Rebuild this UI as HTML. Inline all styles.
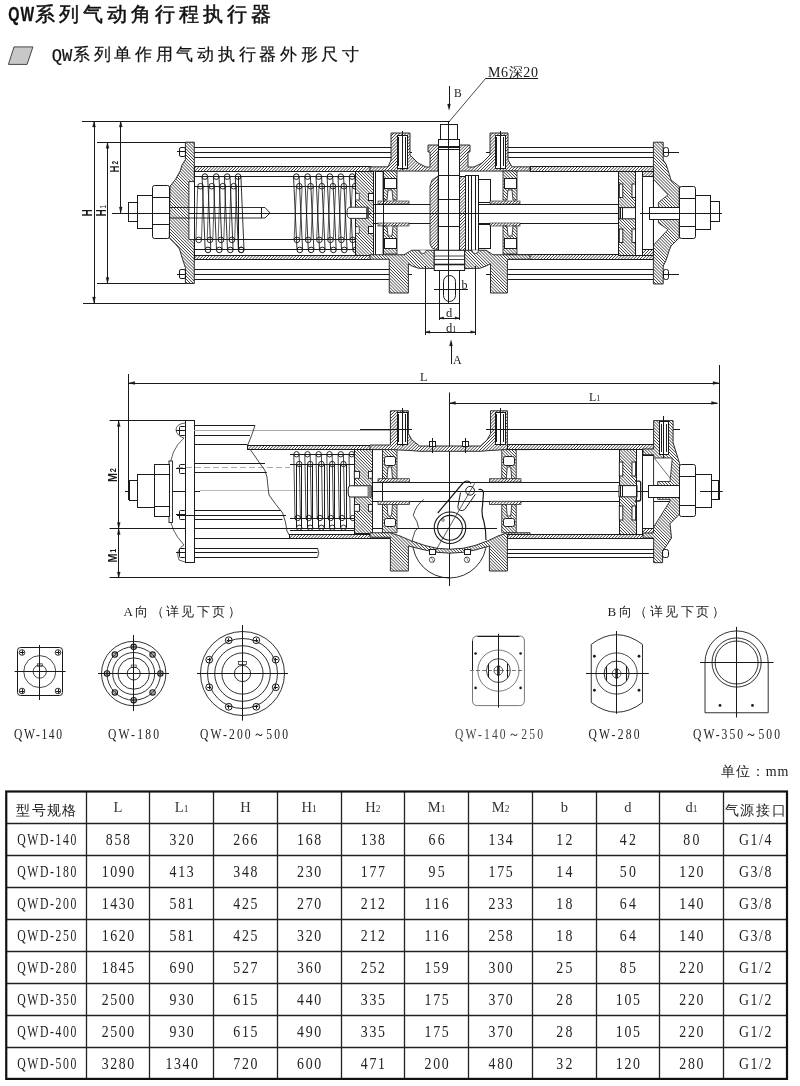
<!DOCTYPE html><html><head><meta charset="utf-8"><style>html,body{margin:0;padding:0;background:#fff;width:800px;height:1086px;overflow:hidden}svg{display:block;will-change:transform}</style></head><body>
<svg width="800" height="1086" viewBox="0 0 800 1086">
<defs>
<pattern id="h1" patternUnits="userSpaceOnUse" width="2.6" height="2.6" patternTransform="rotate(45)"><line x1="0" y1="0" x2="0" y2="2.6" stroke="#1a1a1a" stroke-width="1.0"/></pattern>
<pattern id="h2" patternUnits="userSpaceOnUse" width="2.7" height="2.7" patternTransform="rotate(-45)"><line x1="0" y1="0" x2="0" y2="2.7" stroke="#1a1a1a" stroke-width="1.0"/></pattern>
</defs>
<rect width="800" height="1086" fill="#fff"/>
<text transform="translate(8.3,21.2) scale(0.74,1)" font-family="'Liberation Sans', sans-serif" font-size="19.5" font-weight="bold" fill="#111" stroke="#111" stroke-width="0.3" letter-spacing="1.2">QW</text>
<text x="34.5" y="20.5" font-family="'Liberation Sans', sans-serif" font-size="20" fill="#111" stroke="#111" stroke-width="0.5" textLength="236" lengthAdjust="spacing">系列气动角行程执行器</text>
<polygon points="8.4,64.4 14,46.9 32.9,46.9 27.1,64.4" fill="#c8c8c8" stroke="#333" stroke-width="0.9"/>
<text x="51.8" y="60.6" font-family="'Liberation Mono', monospace" font-size="17.5" fill="#111" stroke="#111" stroke-width="0.2" textLength="20.5" lengthAdjust="spacingAndGlyphs">QW</text>
<text x="73" y="60.3" font-family="'Liberation Sans', sans-serif" font-size="17" fill="#111" stroke="#111" stroke-width="0.2" textLength="286" lengthAdjust="spacing">系列单作用气动执行器外形尺寸</text>
<line x1="6.25" y1="823.5" x2="787" y2="823.5" stroke="#222" stroke-width="1.3" />
<line x1="6.25" y1="855.5" x2="787" y2="855.5" stroke="#222" stroke-width="1.3" />
<line x1="6.25" y1="887.5" x2="787" y2="887.5" stroke="#222" stroke-width="1.3" />
<line x1="6.25" y1="919.5" x2="787" y2="919.5" stroke="#222" stroke-width="1.3" />
<line x1="6.25" y1="951.5" x2="787" y2="951.5" stroke="#222" stroke-width="1.3" />
<line x1="6.25" y1="983.5" x2="787" y2="983.5" stroke="#222" stroke-width="1.3" />
<line x1="6.25" y1="1015.5" x2="787" y2="1015.5" stroke="#222" stroke-width="1.3" />
<line x1="6.25" y1="1047.5" x2="787" y2="1047.5" stroke="#222" stroke-width="1.3" />
<line x1="86.5" y1="791.5" x2="86.5" y2="1078.9" stroke="#222" stroke-width="1.3" />
<line x1="149.5" y1="791.5" x2="149.5" y2="1078.9" stroke="#222" stroke-width="1.3" />
<line x1="213.5" y1="791.5" x2="213.5" y2="1078.9" stroke="#222" stroke-width="1.3" />
<line x1="277.5" y1="791.5" x2="277.5" y2="1078.9" stroke="#222" stroke-width="1.3" />
<line x1="341.5" y1="791.5" x2="341.5" y2="1078.9" stroke="#222" stroke-width="1.3" />
<line x1="404.5" y1="791.5" x2="404.5" y2="1078.9" stroke="#222" stroke-width="1.3" />
<line x1="468.5" y1="791.5" x2="468.5" y2="1078.9" stroke="#222" stroke-width="1.3" />
<line x1="532.5" y1="791.5" x2="532.5" y2="1078.9" stroke="#222" stroke-width="1.3" />
<line x1="596.5" y1="791.5" x2="596.5" y2="1078.9" stroke="#222" stroke-width="1.3" />
<line x1="659.5" y1="791.5" x2="659.5" y2="1078.9" stroke="#222" stroke-width="1.3" />
<line x1="723.5" y1="791.5" x2="723.5" y2="1078.9" stroke="#222" stroke-width="1.3" />
<rect x="6.25" y="791.5" width="780.75" height="287.4000000000001" fill="none" stroke="#111" stroke-width="2.2" rx="0" />
<text x="46.25" y="814.5" font-family="'Liberation Serif', serif" font-size="13.5" fill="#222" text-anchor="middle" textLength="60" lengthAdjust="spacing" >型号规格</text>
<text x="117.875" y="812" font-family="'Liberation Serif', serif" font-size="14.5" fill="#333" text-anchor="middle" >L</text>
<text x="181.625" y="812" font-family="'Liberation Serif', serif" font-size="14.5" fill="#333" text-anchor="middle" >L<tspan font-size='9.5'>1</tspan></text>
<text x="245.375" y="812" font-family="'Liberation Serif', serif" font-size="14.5" fill="#333" text-anchor="middle" >H</text>
<text x="309.125" y="812" font-family="'Liberation Serif', serif" font-size="14.5" fill="#333" text-anchor="middle" >H<tspan font-size='9.5'>1</tspan></text>
<text x="372.875" y="812" font-family="'Liberation Serif', serif" font-size="14.5" fill="#333" text-anchor="middle" >H<tspan font-size='9.5'>2</tspan></text>
<text x="436.625" y="812" font-family="'Liberation Serif', serif" font-size="14.5" fill="#333" text-anchor="middle" >M<tspan font-size='9.5'>1</tspan></text>
<text x="500.625" y="812" font-family="'Liberation Serif', serif" font-size="14.5" fill="#333" text-anchor="middle" >M<tspan font-size='9.5'>2</tspan></text>
<text x="564.375" y="812" font-family="'Liberation Serif', serif" font-size="14.5" fill="#333" text-anchor="middle" >b</text>
<text x="627.875" y="812" font-family="'Liberation Serif', serif" font-size="14.5" fill="#333" text-anchor="middle" >d</text>
<text x="691.375" y="812" font-family="'Liberation Serif', serif" font-size="14.5" fill="#333" text-anchor="middle" >d<tspan font-size='9.5'>1</tspan></text>
<text x="755.125" y="814.5" font-family="'Liberation Serif', serif" font-size="13.5" fill="#222" text-anchor="middle" textLength="61" lengthAdjust="spacing" >气源接口</text>
<text transform="translate(46.75,845.3) scale(0.72,1)" x="0" y="0" font-family="'Liberation Serif', serif" font-size="16.3" font-weight="normal" fill="#222" text-anchor="middle" textLength="81.94" lengthAdjust="spacing">QWD-140</text>
<text transform="translate(117.875,845.3) scale(0.85,1)" x="0" y="0" font-family="'Liberation Serif', serif" font-size="16.3" font-weight="normal" fill="#222" text-anchor="middle" textLength="28.59" lengthAdjust="spacing">858</text>
<text transform="translate(181.625,845.3) scale(0.85,1)" x="0" y="0" font-family="'Liberation Serif', serif" font-size="16.3" font-weight="normal" fill="#222" text-anchor="middle" textLength="28.59" lengthAdjust="spacing">320</text>
<text transform="translate(245.375,845.3) scale(0.85,1)" x="0" y="0" font-family="'Liberation Serif', serif" font-size="16.3" font-weight="normal" fill="#222" text-anchor="middle" textLength="28.59" lengthAdjust="spacing">266</text>
<text transform="translate(309.125,845.3) scale(0.85,1)" x="0" y="0" font-family="'Liberation Serif', serif" font-size="16.3" font-weight="normal" fill="#222" text-anchor="middle" textLength="28.59" lengthAdjust="spacing">168</text>
<text transform="translate(372.875,845.3) scale(0.85,1)" x="0" y="0" font-family="'Liberation Serif', serif" font-size="16.3" font-weight="normal" fill="#222" text-anchor="middle" textLength="28.59" lengthAdjust="spacing">138</text>
<text transform="translate(436.625,845.3) scale(0.85,1)" x="0" y="0" font-family="'Liberation Serif', serif" font-size="16.3" font-weight="normal" fill="#222" text-anchor="middle" textLength="19.06" lengthAdjust="spacing">66</text>
<text transform="translate(500.625,845.3) scale(0.85,1)" x="0" y="0" font-family="'Liberation Serif', serif" font-size="16.3" font-weight="normal" fill="#222" text-anchor="middle" textLength="28.59" lengthAdjust="spacing">134</text>
<text transform="translate(564.375,845.3) scale(0.85,1)" x="0" y="0" font-family="'Liberation Serif', serif" font-size="16.3" font-weight="normal" fill="#222" text-anchor="middle" textLength="19.06" lengthAdjust="spacing">12</text>
<text transform="translate(627.875,845.3) scale(0.85,1)" x="0" y="0" font-family="'Liberation Serif', serif" font-size="16.3" font-weight="normal" fill="#222" text-anchor="middle" textLength="19.06" lengthAdjust="spacing">42</text>
<text transform="translate(691.375,845.3) scale(0.85,1)" x="0" y="0" font-family="'Liberation Serif', serif" font-size="16.3" font-weight="normal" fill="#222" text-anchor="middle" textLength="19.06" lengthAdjust="spacing">80</text>
<text transform="translate(755.125,845.3) scale(0.85,1)" x="0" y="0" font-family="'Liberation Serif', serif" font-size="16.3" font-weight="normal" fill="#222" text-anchor="middle" textLength="38.12" lengthAdjust="spacing">G1/4</text>
<text transform="translate(46.75,877.3) scale(0.72,1)" x="0" y="0" font-family="'Liberation Serif', serif" font-size="16.3" font-weight="normal" fill="#222" text-anchor="middle" textLength="81.94" lengthAdjust="spacing">QWD-180</text>
<text transform="translate(117.875,877.3) scale(0.85,1)" x="0" y="0" font-family="'Liberation Serif', serif" font-size="16.3" font-weight="normal" fill="#222" text-anchor="middle" textLength="38.12" lengthAdjust="spacing">1090</text>
<text transform="translate(181.625,877.3) scale(0.85,1)" x="0" y="0" font-family="'Liberation Serif', serif" font-size="16.3" font-weight="normal" fill="#222" text-anchor="middle" textLength="28.59" lengthAdjust="spacing">413</text>
<text transform="translate(245.375,877.3) scale(0.85,1)" x="0" y="0" font-family="'Liberation Serif', serif" font-size="16.3" font-weight="normal" fill="#222" text-anchor="middle" textLength="28.59" lengthAdjust="spacing">348</text>
<text transform="translate(309.125,877.3) scale(0.85,1)" x="0" y="0" font-family="'Liberation Serif', serif" font-size="16.3" font-weight="normal" fill="#222" text-anchor="middle" textLength="28.59" lengthAdjust="spacing">230</text>
<text transform="translate(372.875,877.3) scale(0.85,1)" x="0" y="0" font-family="'Liberation Serif', serif" font-size="16.3" font-weight="normal" fill="#222" text-anchor="middle" textLength="28.59" lengthAdjust="spacing">177</text>
<text transform="translate(436.625,877.3) scale(0.85,1)" x="0" y="0" font-family="'Liberation Serif', serif" font-size="16.3" font-weight="normal" fill="#222" text-anchor="middle" textLength="19.06" lengthAdjust="spacing">95</text>
<text transform="translate(500.625,877.3) scale(0.85,1)" x="0" y="0" font-family="'Liberation Serif', serif" font-size="16.3" font-weight="normal" fill="#222" text-anchor="middle" textLength="28.59" lengthAdjust="spacing">175</text>
<text transform="translate(564.375,877.3) scale(0.85,1)" x="0" y="0" font-family="'Liberation Serif', serif" font-size="16.3" font-weight="normal" fill="#222" text-anchor="middle" textLength="19.06" lengthAdjust="spacing">14</text>
<text transform="translate(627.875,877.3) scale(0.85,1)" x="0" y="0" font-family="'Liberation Serif', serif" font-size="16.3" font-weight="normal" fill="#222" text-anchor="middle" textLength="19.06" lengthAdjust="spacing">50</text>
<text transform="translate(691.375,877.3) scale(0.85,1)" x="0" y="0" font-family="'Liberation Serif', serif" font-size="16.3" font-weight="normal" fill="#222" text-anchor="middle" textLength="28.59" lengthAdjust="spacing">120</text>
<text transform="translate(755.125,877.3) scale(0.85,1)" x="0" y="0" font-family="'Liberation Serif', serif" font-size="16.3" font-weight="normal" fill="#222" text-anchor="middle" textLength="38.12" lengthAdjust="spacing">G3/8</text>
<text transform="translate(46.75,909.3) scale(0.72,1)" x="0" y="0" font-family="'Liberation Serif', serif" font-size="16.3" font-weight="normal" fill="#222" text-anchor="middle" textLength="81.94" lengthAdjust="spacing">QWD-200</text>
<text transform="translate(117.875,909.3) scale(0.85,1)" x="0" y="0" font-family="'Liberation Serif', serif" font-size="16.3" font-weight="normal" fill="#222" text-anchor="middle" textLength="38.12" lengthAdjust="spacing">1430</text>
<text transform="translate(181.625,909.3) scale(0.85,1)" x="0" y="0" font-family="'Liberation Serif', serif" font-size="16.3" font-weight="normal" fill="#222" text-anchor="middle" textLength="28.59" lengthAdjust="spacing">581</text>
<text transform="translate(245.375,909.3) scale(0.85,1)" x="0" y="0" font-family="'Liberation Serif', serif" font-size="16.3" font-weight="normal" fill="#222" text-anchor="middle" textLength="28.59" lengthAdjust="spacing">425</text>
<text transform="translate(309.125,909.3) scale(0.85,1)" x="0" y="0" font-family="'Liberation Serif', serif" font-size="16.3" font-weight="normal" fill="#222" text-anchor="middle" textLength="28.59" lengthAdjust="spacing">270</text>
<text transform="translate(372.875,909.3) scale(0.85,1)" x="0" y="0" font-family="'Liberation Serif', serif" font-size="16.3" font-weight="normal" fill="#222" text-anchor="middle" textLength="28.59" lengthAdjust="spacing">212</text>
<text transform="translate(436.625,909.3) scale(0.85,1)" x="0" y="0" font-family="'Liberation Serif', serif" font-size="16.3" font-weight="normal" fill="#222" text-anchor="middle" textLength="28.59" lengthAdjust="spacing">116</text>
<text transform="translate(500.625,909.3) scale(0.85,1)" x="0" y="0" font-family="'Liberation Serif', serif" font-size="16.3" font-weight="normal" fill="#222" text-anchor="middle" textLength="28.59" lengthAdjust="spacing">233</text>
<text transform="translate(564.375,909.3) scale(0.85,1)" x="0" y="0" font-family="'Liberation Serif', serif" font-size="16.3" font-weight="normal" fill="#222" text-anchor="middle" textLength="19.06" lengthAdjust="spacing">18</text>
<text transform="translate(627.875,909.3) scale(0.85,1)" x="0" y="0" font-family="'Liberation Serif', serif" font-size="16.3" font-weight="normal" fill="#222" text-anchor="middle" textLength="19.06" lengthAdjust="spacing">64</text>
<text transform="translate(691.375,909.3) scale(0.85,1)" x="0" y="0" font-family="'Liberation Serif', serif" font-size="16.3" font-weight="normal" fill="#222" text-anchor="middle" textLength="28.59" lengthAdjust="spacing">140</text>
<text transform="translate(755.125,909.3) scale(0.85,1)" x="0" y="0" font-family="'Liberation Serif', serif" font-size="16.3" font-weight="normal" fill="#222" text-anchor="middle" textLength="38.12" lengthAdjust="spacing">G3/8</text>
<text transform="translate(46.75,941.3) scale(0.72,1)" x="0" y="0" font-family="'Liberation Serif', serif" font-size="16.3" font-weight="normal" fill="#222" text-anchor="middle" textLength="81.94" lengthAdjust="spacing">QWD-250</text>
<text transform="translate(117.875,941.3) scale(0.85,1)" x="0" y="0" font-family="'Liberation Serif', serif" font-size="16.3" font-weight="normal" fill="#222" text-anchor="middle" textLength="38.12" lengthAdjust="spacing">1620</text>
<text transform="translate(181.625,941.3) scale(0.85,1)" x="0" y="0" font-family="'Liberation Serif', serif" font-size="16.3" font-weight="normal" fill="#222" text-anchor="middle" textLength="28.59" lengthAdjust="spacing">581</text>
<text transform="translate(245.375,941.3) scale(0.85,1)" x="0" y="0" font-family="'Liberation Serif', serif" font-size="16.3" font-weight="normal" fill="#222" text-anchor="middle" textLength="28.59" lengthAdjust="spacing">425</text>
<text transform="translate(309.125,941.3) scale(0.85,1)" x="0" y="0" font-family="'Liberation Serif', serif" font-size="16.3" font-weight="normal" fill="#222" text-anchor="middle" textLength="28.59" lengthAdjust="spacing">320</text>
<text transform="translate(372.875,941.3) scale(0.85,1)" x="0" y="0" font-family="'Liberation Serif', serif" font-size="16.3" font-weight="normal" fill="#222" text-anchor="middle" textLength="28.59" lengthAdjust="spacing">212</text>
<text transform="translate(436.625,941.3) scale(0.85,1)" x="0" y="0" font-family="'Liberation Serif', serif" font-size="16.3" font-weight="normal" fill="#222" text-anchor="middle" textLength="28.59" lengthAdjust="spacing">116</text>
<text transform="translate(500.625,941.3) scale(0.85,1)" x="0" y="0" font-family="'Liberation Serif', serif" font-size="16.3" font-weight="normal" fill="#222" text-anchor="middle" textLength="28.59" lengthAdjust="spacing">258</text>
<text transform="translate(564.375,941.3) scale(0.85,1)" x="0" y="0" font-family="'Liberation Serif', serif" font-size="16.3" font-weight="normal" fill="#222" text-anchor="middle" textLength="19.06" lengthAdjust="spacing">18</text>
<text transform="translate(627.875,941.3) scale(0.85,1)" x="0" y="0" font-family="'Liberation Serif', serif" font-size="16.3" font-weight="normal" fill="#222" text-anchor="middle" textLength="19.06" lengthAdjust="spacing">64</text>
<text transform="translate(691.375,941.3) scale(0.85,1)" x="0" y="0" font-family="'Liberation Serif', serif" font-size="16.3" font-weight="normal" fill="#222" text-anchor="middle" textLength="28.59" lengthAdjust="spacing">140</text>
<text transform="translate(755.125,941.3) scale(0.85,1)" x="0" y="0" font-family="'Liberation Serif', serif" font-size="16.3" font-weight="normal" fill="#222" text-anchor="middle" textLength="38.12" lengthAdjust="spacing">G3/8</text>
<text transform="translate(46.75,973.3) scale(0.72,1)" x="0" y="0" font-family="'Liberation Serif', serif" font-size="16.3" font-weight="normal" fill="#222" text-anchor="middle" textLength="81.94" lengthAdjust="spacing">QWD-280</text>
<text transform="translate(117.875,973.3) scale(0.85,1)" x="0" y="0" font-family="'Liberation Serif', serif" font-size="16.3" font-weight="normal" fill="#222" text-anchor="middle" textLength="38.12" lengthAdjust="spacing">1845</text>
<text transform="translate(181.625,973.3) scale(0.85,1)" x="0" y="0" font-family="'Liberation Serif', serif" font-size="16.3" font-weight="normal" fill="#222" text-anchor="middle" textLength="28.59" lengthAdjust="spacing">690</text>
<text transform="translate(245.375,973.3) scale(0.85,1)" x="0" y="0" font-family="'Liberation Serif', serif" font-size="16.3" font-weight="normal" fill="#222" text-anchor="middle" textLength="28.59" lengthAdjust="spacing">527</text>
<text transform="translate(309.125,973.3) scale(0.85,1)" x="0" y="0" font-family="'Liberation Serif', serif" font-size="16.3" font-weight="normal" fill="#222" text-anchor="middle" textLength="28.59" lengthAdjust="spacing">360</text>
<text transform="translate(372.875,973.3) scale(0.85,1)" x="0" y="0" font-family="'Liberation Serif', serif" font-size="16.3" font-weight="normal" fill="#222" text-anchor="middle" textLength="28.59" lengthAdjust="spacing">252</text>
<text transform="translate(436.625,973.3) scale(0.85,1)" x="0" y="0" font-family="'Liberation Serif', serif" font-size="16.3" font-weight="normal" fill="#222" text-anchor="middle" textLength="28.59" lengthAdjust="spacing">159</text>
<text transform="translate(500.625,973.3) scale(0.85,1)" x="0" y="0" font-family="'Liberation Serif', serif" font-size="16.3" font-weight="normal" fill="#222" text-anchor="middle" textLength="28.59" lengthAdjust="spacing">300</text>
<text transform="translate(564.375,973.3) scale(0.85,1)" x="0" y="0" font-family="'Liberation Serif', serif" font-size="16.3" font-weight="normal" fill="#222" text-anchor="middle" textLength="19.06" lengthAdjust="spacing">25</text>
<text transform="translate(627.875,973.3) scale(0.85,1)" x="0" y="0" font-family="'Liberation Serif', serif" font-size="16.3" font-weight="normal" fill="#222" text-anchor="middle" textLength="19.06" lengthAdjust="spacing">85</text>
<text transform="translate(691.375,973.3) scale(0.85,1)" x="0" y="0" font-family="'Liberation Serif', serif" font-size="16.3" font-weight="normal" fill="#222" text-anchor="middle" textLength="28.59" lengthAdjust="spacing">220</text>
<text transform="translate(755.125,973.3) scale(0.85,1)" x="0" y="0" font-family="'Liberation Serif', serif" font-size="16.3" font-weight="normal" fill="#222" text-anchor="middle" textLength="38.12" lengthAdjust="spacing">G1/2</text>
<text transform="translate(46.75,1005.3) scale(0.72,1)" x="0" y="0" font-family="'Liberation Serif', serif" font-size="16.3" font-weight="normal" fill="#222" text-anchor="middle" textLength="81.94" lengthAdjust="spacing">QWD-350</text>
<text transform="translate(117.875,1005.3) scale(0.85,1)" x="0" y="0" font-family="'Liberation Serif', serif" font-size="16.3" font-weight="normal" fill="#222" text-anchor="middle" textLength="38.12" lengthAdjust="spacing">2500</text>
<text transform="translate(181.625,1005.3) scale(0.85,1)" x="0" y="0" font-family="'Liberation Serif', serif" font-size="16.3" font-weight="normal" fill="#222" text-anchor="middle" textLength="28.59" lengthAdjust="spacing">930</text>
<text transform="translate(245.375,1005.3) scale(0.85,1)" x="0" y="0" font-family="'Liberation Serif', serif" font-size="16.3" font-weight="normal" fill="#222" text-anchor="middle" textLength="28.59" lengthAdjust="spacing">615</text>
<text transform="translate(309.125,1005.3) scale(0.85,1)" x="0" y="0" font-family="'Liberation Serif', serif" font-size="16.3" font-weight="normal" fill="#222" text-anchor="middle" textLength="28.59" lengthAdjust="spacing">440</text>
<text transform="translate(372.875,1005.3) scale(0.85,1)" x="0" y="0" font-family="'Liberation Serif', serif" font-size="16.3" font-weight="normal" fill="#222" text-anchor="middle" textLength="28.59" lengthAdjust="spacing">335</text>
<text transform="translate(436.625,1005.3) scale(0.85,1)" x="0" y="0" font-family="'Liberation Serif', serif" font-size="16.3" font-weight="normal" fill="#222" text-anchor="middle" textLength="28.59" lengthAdjust="spacing">175</text>
<text transform="translate(500.625,1005.3) scale(0.85,1)" x="0" y="0" font-family="'Liberation Serif', serif" font-size="16.3" font-weight="normal" fill="#222" text-anchor="middle" textLength="28.59" lengthAdjust="spacing">370</text>
<text transform="translate(564.375,1005.3) scale(0.85,1)" x="0" y="0" font-family="'Liberation Serif', serif" font-size="16.3" font-weight="normal" fill="#222" text-anchor="middle" textLength="19.06" lengthAdjust="spacing">28</text>
<text transform="translate(627.875,1005.3) scale(0.85,1)" x="0" y="0" font-family="'Liberation Serif', serif" font-size="16.3" font-weight="normal" fill="#222" text-anchor="middle" textLength="28.59" lengthAdjust="spacing">105</text>
<text transform="translate(691.375,1005.3) scale(0.85,1)" x="0" y="0" font-family="'Liberation Serif', serif" font-size="16.3" font-weight="normal" fill="#222" text-anchor="middle" textLength="28.59" lengthAdjust="spacing">220</text>
<text transform="translate(755.125,1005.3) scale(0.85,1)" x="0" y="0" font-family="'Liberation Serif', serif" font-size="16.3" font-weight="normal" fill="#222" text-anchor="middle" textLength="38.12" lengthAdjust="spacing">G1/2</text>
<text transform="translate(46.75,1037.3) scale(0.72,1)" x="0" y="0" font-family="'Liberation Serif', serif" font-size="16.3" font-weight="normal" fill="#222" text-anchor="middle" textLength="81.94" lengthAdjust="spacing">QWD-400</text>
<text transform="translate(117.875,1037.3) scale(0.85,1)" x="0" y="0" font-family="'Liberation Serif', serif" font-size="16.3" font-weight="normal" fill="#222" text-anchor="middle" textLength="38.12" lengthAdjust="spacing">2500</text>
<text transform="translate(181.625,1037.3) scale(0.85,1)" x="0" y="0" font-family="'Liberation Serif', serif" font-size="16.3" font-weight="normal" fill="#222" text-anchor="middle" textLength="28.59" lengthAdjust="spacing">930</text>
<text transform="translate(245.375,1037.3) scale(0.85,1)" x="0" y="0" font-family="'Liberation Serif', serif" font-size="16.3" font-weight="normal" fill="#222" text-anchor="middle" textLength="28.59" lengthAdjust="spacing">615</text>
<text transform="translate(309.125,1037.3) scale(0.85,1)" x="0" y="0" font-family="'Liberation Serif', serif" font-size="16.3" font-weight="normal" fill="#222" text-anchor="middle" textLength="28.59" lengthAdjust="spacing">490</text>
<text transform="translate(372.875,1037.3) scale(0.85,1)" x="0" y="0" font-family="'Liberation Serif', serif" font-size="16.3" font-weight="normal" fill="#222" text-anchor="middle" textLength="28.59" lengthAdjust="spacing">335</text>
<text transform="translate(436.625,1037.3) scale(0.85,1)" x="0" y="0" font-family="'Liberation Serif', serif" font-size="16.3" font-weight="normal" fill="#222" text-anchor="middle" textLength="28.59" lengthAdjust="spacing">175</text>
<text transform="translate(500.625,1037.3) scale(0.85,1)" x="0" y="0" font-family="'Liberation Serif', serif" font-size="16.3" font-weight="normal" fill="#222" text-anchor="middle" textLength="28.59" lengthAdjust="spacing">370</text>
<text transform="translate(564.375,1037.3) scale(0.85,1)" x="0" y="0" font-family="'Liberation Serif', serif" font-size="16.3" font-weight="normal" fill="#222" text-anchor="middle" textLength="19.06" lengthAdjust="spacing">28</text>
<text transform="translate(627.875,1037.3) scale(0.85,1)" x="0" y="0" font-family="'Liberation Serif', serif" font-size="16.3" font-weight="normal" fill="#222" text-anchor="middle" textLength="28.59" lengthAdjust="spacing">105</text>
<text transform="translate(691.375,1037.3) scale(0.85,1)" x="0" y="0" font-family="'Liberation Serif', serif" font-size="16.3" font-weight="normal" fill="#222" text-anchor="middle" textLength="28.59" lengthAdjust="spacing">220</text>
<text transform="translate(755.125,1037.3) scale(0.85,1)" x="0" y="0" font-family="'Liberation Serif', serif" font-size="16.3" font-weight="normal" fill="#222" text-anchor="middle" textLength="38.12" lengthAdjust="spacing">G1/2</text>
<text transform="translate(46.75,1069.3) scale(0.72,1)" x="0" y="0" font-family="'Liberation Serif', serif" font-size="16.3" font-weight="normal" fill="#222" text-anchor="middle" textLength="81.94" lengthAdjust="spacing">QWD-500</text>
<text transform="translate(117.875,1069.3) scale(0.85,1)" x="0" y="0" font-family="'Liberation Serif', serif" font-size="16.3" font-weight="normal" fill="#222" text-anchor="middle" textLength="38.12" lengthAdjust="spacing">3280</text>
<text transform="translate(181.625,1069.3) scale(0.85,1)" x="0" y="0" font-family="'Liberation Serif', serif" font-size="16.3" font-weight="normal" fill="#222" text-anchor="middle" textLength="38.12" lengthAdjust="spacing">1340</text>
<text transform="translate(245.375,1069.3) scale(0.85,1)" x="0" y="0" font-family="'Liberation Serif', serif" font-size="16.3" font-weight="normal" fill="#222" text-anchor="middle" textLength="28.59" lengthAdjust="spacing">720</text>
<text transform="translate(309.125,1069.3) scale(0.85,1)" x="0" y="0" font-family="'Liberation Serif', serif" font-size="16.3" font-weight="normal" fill="#222" text-anchor="middle" textLength="28.59" lengthAdjust="spacing">600</text>
<text transform="translate(372.875,1069.3) scale(0.85,1)" x="0" y="0" font-family="'Liberation Serif', serif" font-size="16.3" font-weight="normal" fill="#222" text-anchor="middle" textLength="28.59" lengthAdjust="spacing">471</text>
<text transform="translate(436.625,1069.3) scale(0.85,1)" x="0" y="0" font-family="'Liberation Serif', serif" font-size="16.3" font-weight="normal" fill="#222" text-anchor="middle" textLength="28.59" lengthAdjust="spacing">200</text>
<text transform="translate(500.625,1069.3) scale(0.85,1)" x="0" y="0" font-family="'Liberation Serif', serif" font-size="16.3" font-weight="normal" fill="#222" text-anchor="middle" textLength="28.59" lengthAdjust="spacing">480</text>
<text transform="translate(564.375,1069.3) scale(0.85,1)" x="0" y="0" font-family="'Liberation Serif', serif" font-size="16.3" font-weight="normal" fill="#222" text-anchor="middle" textLength="19.06" lengthAdjust="spacing">32</text>
<text transform="translate(627.875,1069.3) scale(0.85,1)" x="0" y="0" font-family="'Liberation Serif', serif" font-size="16.3" font-weight="normal" fill="#222" text-anchor="middle" textLength="28.59" lengthAdjust="spacing">120</text>
<text transform="translate(691.375,1069.3) scale(0.85,1)" x="0" y="0" font-family="'Liberation Serif', serif" font-size="16.3" font-weight="normal" fill="#222" text-anchor="middle" textLength="28.59" lengthAdjust="spacing">280</text>
<text transform="translate(755.125,1069.3) scale(0.85,1)" x="0" y="0" font-family="'Liberation Serif', serif" font-size="16.3" font-weight="normal" fill="#222" text-anchor="middle" textLength="38.12" lengthAdjust="spacing">G1/2</text>
<text x="789.5" y="776" font-family="'Liberation Serif', serif" font-size="14" fill="#222" text-anchor="end" letter-spacing="1">单位：mm</text>
<line x1="82" y1="121.5" x2="450" y2="121.5" stroke="#1a1a1a" stroke-width="1" />
<line x1="83" y1="303.5" x2="459" y2="303.5" stroke="#1a1a1a" stroke-width="1" />
<line x1="97" y1="142.5" x2="194.3" y2="142.5" stroke="#1a1a1a" stroke-width="1" />
<line x1="97" y1="283.5" x2="194.3" y2="283.5" stroke="#1a1a1a" stroke-width="1" />
<line x1="94.5" y1="121" x2="94.5" y2="303" stroke="#1a1a1a" stroke-width="1.0" />
<polygon points="94,121 92.5,127 95.5,127" fill="#1a1a1a" stroke="#1a1a1a" stroke-width="0.3"/>
<polygon points="94,303 92.5,297 95.5,297" fill="#1a1a1a" stroke="#1a1a1a" stroke-width="0.3"/>
<line x1="107.5" y1="142.3" x2="107.5" y2="283.5" stroke="#1a1a1a" stroke-width="1.0" />
<polygon points="107.5,142.3 106.0,148.3 109.0,148.3" fill="#1a1a1a" stroke="#1a1a1a" stroke-width="0.3"/>
<polygon points="107.5,283.5 106.0,277.5 109.0,277.5" fill="#1a1a1a" stroke="#1a1a1a" stroke-width="0.3"/>
<line x1="120.5" y1="121" x2="120.5" y2="213" stroke="#1a1a1a" stroke-width="1.0" />
<polygon points="120.75,121 119.25,127 122.25,127" fill="#1a1a1a" stroke="#1a1a1a" stroke-width="0.3"/>
<polygon points="120.75,213 119.25,207 122.25,207" fill="#1a1a1a" stroke="#1a1a1a" stroke-width="0.3"/>
<text transform="translate(91.6,216.5) rotate(-90) scale(0.72,1)" font-family="'Liberation Sans', sans-serif" font-size="14" font-weight="bold" fill="#1a1a1a">H</text>
<text transform="translate(106.2,216.5) rotate(-90) scale(0.72,1)" font-family="'Liberation Sans', sans-serif" font-size="14" font-weight="bold" fill="#1a1a1a">H<tspan font-size="9" font-weight="normal" dx="1">1</tspan></text>
<text transform="translate(118.8,172.5) rotate(-90) scale(0.72,1)" font-family="'Liberation Sans', sans-serif" font-size="13.5" font-weight="bold" fill="#1a1a1a">H<tspan font-size="9" dx="1.5" dy="-1">2</tspan></text>
<line x1="112" y1="213.5" x2="270" y2="213.5" stroke="#1a1a1a" stroke-width="1.0" />
<clipPath id="c1"><path d="M194.3,142.2 L185.4,142.2 L185.4,159.7 Q181,165 180.3,170.7 Q176,180 170,186.3 L169.3,238 Q176,244 179.5,249 Q182,258 185.4,267.7 L185.4,283.4 L194.3,283.4 L194.3,239.5 L188.9,239.5 L188.9,181.6 L194.3,181.6 Z"/></clipPath>
<path d="M194.3,142.2 L185.4,142.2 L185.4,159.7 Q181,165 180.3,170.7 Q176,180 170,186.3 L169.3,238 Q176,244 179.5,249 Q182,258 185.4,267.7 L185.4,283.4 L194.3,283.4 L194.3,239.5 L188.9,239.5 L188.9,181.6 L194.3,181.6 Z" fill="#fff" stroke="none"/>
<path d="M23.4,141.2L166.6,284.4M26.5,141.2L169.7,284.4M29.6,141.2L172.8,284.4M32.7,141.2L175.9,284.4M35.8,141.2L179.0,284.4M38.9,141.2L182.1,284.4M42.0,141.2L185.2,284.4M45.1,141.2L188.3,284.4M48.2,141.2L191.4,284.4M51.3,141.2L194.5,284.4M54.4,141.2L197.6,284.4M57.5,141.2L200.7,284.4M60.6,141.2L203.8,284.4M63.7,141.2L206.9,284.4M66.8,141.2L210.0,284.4M69.9,141.2L213.1,284.4M73.0,141.2L216.2,284.4M76.1,141.2L219.3,284.4M79.2,141.2L222.4,284.4M82.3,141.2L225.5,284.4M85.4,141.2L228.6,284.4M88.5,141.2L231.7,284.4M91.6,141.2L234.8,284.4M94.7,141.2L237.9,284.4M97.8,141.2L241.0,284.4M100.9,141.2L244.1,284.4M104.0,141.2L247.2,284.4M107.1,141.2L250.3,284.4M110.2,141.2L253.4,284.4M113.3,141.2L256.5,284.4M116.4,141.2L259.6,284.4M119.5,141.2L262.7,284.4M122.6,141.2L265.8,284.4M125.7,141.2L268.9,284.4M128.8,141.2L272.0,284.4M131.9,141.2L275.1,284.4M135.0,141.2L278.2,284.4M138.1,141.2L281.3,284.4M141.2,141.2L284.4,284.4M144.3,141.2L287.5,284.4M147.4,141.2L290.6,284.4M150.5,141.2L293.7,284.4M153.6,141.2L296.8,284.4M156.7,141.2L299.9,284.4M159.8,141.2L303.0,284.4M162.9,141.2L306.1,284.4M166.0,141.2L309.2,284.4M169.1,141.2L312.3,284.4M172.2,141.2L315.4,284.4M175.3,141.2L318.5,284.4M178.4,141.2L321.6,284.4M181.5,141.2L324.7,284.4M184.6,141.2L327.8,284.4M187.7,141.2L330.9,284.4M190.8,141.2L334.0,284.4M193.9,141.2L337.1,284.4M197.0,141.2L340.2,284.4" stroke="#1a1a1a" stroke-width="0.85" clip-path="url(#c1)"/>
<path d="M194.3,142.2 L185.4,142.2 L185.4,159.7 Q181,165 180.3,170.7 Q176,180 170,186.3 L169.3,238 Q176,244 179.5,249 Q182,258 185.4,267.7 L185.4,283.4 L194.3,283.4 L194.3,239.5 L188.9,239.5 L188.9,181.6 L194.3,181.6 Z" fill="none" stroke="#1a1a1a" stroke-width="0.9"/>
<rect x="179.5" y="147.5" width="6.0" height="9.0" fill="none" stroke="#1a1a1a" stroke-width="1.0" rx="1.5" />
<line x1="177" y1="151.5" x2="185.4" y2="151.5" stroke="#1a1a1a" stroke-width="1.0" />
<rect x="179.5" y="269.5" width="6.0" height="9.0" fill="none" stroke="#1a1a1a" stroke-width="1.0" rx="1.5" />
<line x1="177" y1="274.5" x2="185.4" y2="274.5" stroke="#1a1a1a" stroke-width="1.0" />
<rect x="152.5" y="185.5" width="17.0" height="53.0" fill="none" stroke="#1a1a1a" stroke-width="1.0" rx="2" />
<line x1="152.9" y1="197.5" x2="169.3" y2="197.5" stroke="#1a1a1a" stroke-width="1.0" />
<line x1="152.9" y1="224.5" x2="169.3" y2="224.5" stroke="#1a1a1a" stroke-width="1.0" />
<rect x="137.5" y="195.5" width="15.0" height="33.0" fill="none" stroke="#1a1a1a" stroke-width="1.0" rx="0" />
<rect x="128.5" y="202.5" width="9.0" height="19.0" fill="none" stroke="#1a1a1a" stroke-width="1.0" rx="0" />
<path d="M169.3,207.5 L265,207.5 L270,213 L265,218 L169.3,218" fill="none" stroke="#1a1a1a" stroke-width="0.9" />
<line x1="261.5" y1="207.5" x2="261.5" y2="218" stroke="#1a1a1a" stroke-width="1.0" />
<line x1="194.3" y1="147.5" x2="391" y2="147.5" stroke="#1a1a1a" stroke-width="1.0" />
<line x1="508" y1="147.5" x2="653.4" y2="147.5" stroke="#1a1a1a" stroke-width="1.0" />
<line x1="194.3" y1="152.5" x2="391" y2="152.5" stroke="#1a1a1a" stroke-width="1.0" />
<line x1="508" y1="152.5" x2="653.4" y2="152.5" stroke="#1a1a1a" stroke-width="1.0" />
<line x1="194.3" y1="157.5" x2="391" y2="157.5" stroke="#1a1a1a" stroke-width="1.0" />
<line x1="508" y1="157.5" x2="653.4" y2="157.5" stroke="#1a1a1a" stroke-width="1.0" />
<line x1="194.3" y1="269.5" x2="391" y2="269.5" stroke="#1a1a1a" stroke-width="1.0" />
<line x1="508" y1="269.5" x2="653.4" y2="269.5" stroke="#1a1a1a" stroke-width="1.0" />
<line x1="194.3" y1="274.5" x2="391" y2="274.5" stroke="#1a1a1a" stroke-width="1.0" />
<line x1="508" y1="274.5" x2="653.4" y2="274.5" stroke="#1a1a1a" stroke-width="1.0" />
<line x1="194.3" y1="279.5" x2="391" y2="279.5" stroke="#1a1a1a" stroke-width="1.0" />
<line x1="508" y1="279.5" x2="653.4" y2="279.5" stroke="#1a1a1a" stroke-width="1.0" />
<line x1="380" y1="152.5" x2="412" y2="152.5" stroke="#1a1a1a" stroke-width="1.0" />
<line x1="486" y1="152.5" x2="520" y2="152.5" stroke="#1a1a1a" stroke-width="1.0" />
<line x1="663" y1="152.5" x2="679" y2="152.5" stroke="#1a1a1a" stroke-width="1.0" />
<line x1="663" y1="274.5" x2="679" y2="274.5" stroke="#1a1a1a" stroke-width="1.0" />
<line x1="380" y1="274.5" x2="412" y2="274.5" stroke="#1a1a1a" stroke-width="1.0" />
<line x1="486" y1="274.5" x2="520" y2="274.5" stroke="#1a1a1a" stroke-width="1.0" />
<clipPath id="c2"><rect x="194.5" y="166.5" width="176.0" height="5.0" rx="0"/></clipPath>
<rect x="194.5" y="166.5" width="176.0" height="5.0" rx="0" fill="#fff" stroke="none"/>
<path d="M184.0,172.5L191.0,165.5M187.1,172.5L194.1,165.5M190.2,172.5L197.2,165.5M193.3,172.5L200.3,165.5M196.4,172.5L203.4,165.5M199.5,172.5L206.5,165.5M202.6,172.5L209.6,165.5M205.7,172.5L212.7,165.5M208.8,172.5L215.8,165.5M211.9,172.5L218.9,165.5M215.0,172.5L222.0,165.5M218.1,172.5L225.1,165.5M221.2,172.5L228.2,165.5M224.3,172.5L231.3,165.5M227.4,172.5L234.4,165.5M230.5,172.5L237.5,165.5M233.6,172.5L240.6,165.5M236.7,172.5L243.7,165.5M239.8,172.5L246.8,165.5M242.9,172.5L249.9,165.5M246.0,172.5L253.0,165.5M249.1,172.5L256.1,165.5M252.2,172.5L259.2,165.5M255.3,172.5L262.3,165.5M258.4,172.5L265.4,165.5M261.5,172.5L268.5,165.5M264.6,172.5L271.6,165.5M267.7,172.5L274.7,165.5M270.8,172.5L277.8,165.5M273.9,172.5L280.9,165.5M277.0,172.5L284.0,165.5M280.1,172.5L287.1,165.5M283.2,172.5L290.2,165.5M286.3,172.5L293.3,165.5M289.4,172.5L296.4,165.5M292.5,172.5L299.5,165.5M295.6,172.5L302.6,165.5M298.7,172.5L305.7,165.5M301.8,172.5L308.8,165.5M304.9,172.5L311.9,165.5M308.0,172.5L315.0,165.5M311.1,172.5L318.1,165.5M314.2,172.5L321.2,165.5M317.3,172.5L324.3,165.5M320.4,172.5L327.4,165.5M323.5,172.5L330.5,165.5M326.6,172.5L333.6,165.5M329.7,172.5L336.7,165.5M332.8,172.5L339.8,165.5M335.9,172.5L342.9,165.5M339.0,172.5L346.0,165.5M342.1,172.5L349.1,165.5M345.2,172.5L352.2,165.5M348.3,172.5L355.3,165.5M351.4,172.5L358.4,165.5M354.5,172.5L361.5,165.5M357.6,172.5L364.6,165.5M360.7,172.5L367.7,165.5M363.8,172.5L370.8,165.5M366.9,172.5L373.9,165.5M370.0,172.5L377.0,165.5M373.1,172.5L380.1,165.5" stroke="#1a1a1a" stroke-width="0.85" clip-path="url(#c2)"/>
<rect x="194.5" y="166.5" width="176.0" height="5.0" rx="0" fill="none" stroke="#1a1a1a" stroke-width="1.0"/>
<clipPath id="c3"><rect x="194.5" y="255.5" width="176.0" height="4.0" rx="0"/></clipPath>
<rect x="194.5" y="255.5" width="176.0" height="4.0" rx="0" fill="#fff" stroke="none"/>
<path d="M185.9,260.5L191.9,254.5M189.0,260.5L195.0,254.5M192.1,260.5L198.1,254.5M195.2,260.5L201.2,254.5M198.3,260.5L204.3,254.5M201.4,260.5L207.4,254.5M204.5,260.5L210.5,254.5M207.6,260.5L213.6,254.5M210.7,260.5L216.7,254.5M213.8,260.5L219.8,254.5M216.9,260.5L222.9,254.5M220.0,260.5L226.0,254.5M223.1,260.5L229.1,254.5M226.2,260.5L232.2,254.5M229.3,260.5L235.3,254.5M232.4,260.5L238.4,254.5M235.5,260.5L241.5,254.5M238.6,260.5L244.6,254.5M241.7,260.5L247.7,254.5M244.8,260.5L250.8,254.5M247.9,260.5L253.9,254.5M251.0,260.5L257.0,254.5M254.1,260.5L260.1,254.5M257.2,260.5L263.2,254.5M260.3,260.5L266.3,254.5M263.4,260.5L269.4,254.5M266.5,260.5L272.5,254.5M269.6,260.5L275.6,254.5M272.7,260.5L278.7,254.5M275.8,260.5L281.8,254.5M278.9,260.5L284.9,254.5M282.0,260.5L288.0,254.5M285.1,260.5L291.1,254.5M288.2,260.5L294.2,254.5M291.3,260.5L297.3,254.5M294.4,260.5L300.4,254.5M297.5,260.5L303.5,254.5M300.6,260.5L306.6,254.5M303.7,260.5L309.7,254.5M306.8,260.5L312.8,254.5M309.9,260.5L315.9,254.5M313.0,260.5L319.0,254.5M316.1,260.5L322.1,254.5M319.2,260.5L325.2,254.5M322.3,260.5L328.3,254.5M325.4,260.5L331.4,254.5M328.5,260.5L334.5,254.5M331.6,260.5L337.6,254.5M334.7,260.5L340.7,254.5M337.8,260.5L343.8,254.5M340.9,260.5L346.9,254.5M344.0,260.5L350.0,254.5M347.1,260.5L353.1,254.5M350.2,260.5L356.2,254.5M353.3,260.5L359.3,254.5M356.4,260.5L362.4,254.5M359.5,260.5L365.5,254.5M362.6,260.5L368.6,254.5M365.7,260.5L371.7,254.5M368.8,260.5L374.8,254.5M371.9,260.5L377.9,254.5" stroke="#1a1a1a" stroke-width="0.85" clip-path="url(#c3)"/>
<rect x="194.5" y="255.5" width="176.0" height="4.0" rx="0" fill="none" stroke="#1a1a1a" stroke-width="1.0"/>
<clipPath id="c4"><rect x="530.5" y="166.5" width="123.0" height="5.0" rx="0"/></clipPath>
<rect x="530.5" y="166.5" width="123.0" height="5.0" rx="0" fill="#fff" stroke="none"/>
<path d="M521.9,172.5L528.9,165.5M525.0,172.5L532.0,165.5M528.1,172.5L535.1,165.5M531.2,172.5L538.2,165.5M534.3,172.5L541.3,165.5M537.4,172.5L544.4,165.5M540.5,172.5L547.5,165.5M543.6,172.5L550.6,165.5M546.7,172.5L553.7,165.5M549.8,172.5L556.8,165.5M552.9,172.5L559.9,165.5M556.0,172.5L563.0,165.5M559.1,172.5L566.1,165.5M562.2,172.5L569.2,165.5M565.3,172.5L572.3,165.5M568.4,172.5L575.4,165.5M571.5,172.5L578.5,165.5M574.6,172.5L581.6,165.5M577.7,172.5L584.7,165.5M580.8,172.5L587.8,165.5M583.9,172.5L590.9,165.5M587.0,172.5L594.0,165.5M590.1,172.5L597.1,165.5M593.2,172.5L600.2,165.5M596.3,172.5L603.3,165.5M599.4,172.5L606.4,165.5M602.5,172.5L609.5,165.5M605.6,172.5L612.6,165.5M608.7,172.5L615.7,165.5M611.8,172.5L618.8,165.5M614.9,172.5L621.9,165.5M618.0,172.5L625.0,165.5M621.1,172.5L628.1,165.5M624.2,172.5L631.2,165.5M627.3,172.5L634.3,165.5M630.4,172.5L637.4,165.5M633.5,172.5L640.5,165.5M636.6,172.5L643.6,165.5M639.7,172.5L646.7,165.5M642.8,172.5L649.8,165.5M645.9,172.5L652.9,165.5M649.0,172.5L656.0,165.5M652.1,172.5L659.1,165.5M655.2,172.5L662.2,165.5" stroke="#1a1a1a" stroke-width="0.85" clip-path="url(#c4)"/>
<rect x="530.5" y="166.5" width="123.0" height="5.0" rx="0" fill="none" stroke="#1a1a1a" stroke-width="1.0"/>
<clipPath id="c5"><rect x="507.5" y="254.5" width="146.0" height="5.0" rx="0"/></clipPath>
<rect x="507.5" y="254.5" width="146.0" height="5.0" rx="0" fill="#fff" stroke="none"/>
<path d="M499.0,260.5L506.0,253.5M502.1,260.5L509.1,253.5M505.2,260.5L512.2,253.5M508.3,260.5L515.3,253.5M511.4,260.5L518.4,253.5M514.5,260.5L521.5,253.5M517.6,260.5L524.6,253.5M520.7,260.5L527.7,253.5M523.8,260.5L530.8,253.5M526.9,260.5L533.9,253.5M530.0,260.5L537.0,253.5M533.1,260.5L540.1,253.5M536.2,260.5L543.2,253.5M539.3,260.5L546.3,253.5M542.4,260.5L549.4,253.5M545.5,260.5L552.5,253.5M548.6,260.5L555.6,253.5M551.7,260.5L558.7,253.5M554.8,260.5L561.8,253.5M557.9,260.5L564.9,253.5M561.0,260.5L568.0,253.5M564.1,260.5L571.1,253.5M567.2,260.5L574.2,253.5M570.3,260.5L577.3,253.5M573.4,260.5L580.4,253.5M576.5,260.5L583.5,253.5M579.6,260.5L586.6,253.5M582.7,260.5L589.7,253.5M585.8,260.5L592.8,253.5M588.9,260.5L595.9,253.5M592.0,260.5L599.0,253.5M595.1,260.5L602.1,253.5M598.2,260.5L605.2,253.5M601.3,260.5L608.3,253.5M604.4,260.5L611.4,253.5M607.5,260.5L614.5,253.5M610.6,260.5L617.6,253.5M613.7,260.5L620.7,253.5M616.8,260.5L623.8,253.5M619.9,260.5L626.9,253.5M623.0,260.5L630.0,253.5M626.1,260.5L633.1,253.5M629.2,260.5L636.2,253.5M632.3,260.5L639.3,253.5M635.4,260.5L642.4,253.5M638.5,260.5L645.5,253.5M641.6,260.5L648.6,253.5M644.7,260.5L651.7,253.5M647.8,260.5L654.8,253.5M650.9,260.5L657.9,253.5M654.0,260.5L661.0,253.5M657.1,260.5L664.1,253.5" stroke="#1a1a1a" stroke-width="0.85" clip-path="url(#c5)"/>
<rect x="507.5" y="254.5" width="146.0" height="5.0" rx="0" fill="none" stroke="#1a1a1a" stroke-width="1.0"/>
<circle cx="204.9" cy="176.6" r="2.8" fill="none" stroke="#1a1a1a" stroke-width="1.0"/>
<circle cx="200.5" cy="186.2" r="2.8" fill="none" stroke="#1a1a1a" stroke-width="0.9"/>
<circle cx="198.70000000000002" cy="239.9" r="2.8" fill="none" stroke="#1a1a1a" stroke-width="0.9"/>
<circle cx="208.0" cy="249.9" r="2.8" fill="none" stroke="#1a1a1a" stroke-width="1.0"/>
<line x1="202.1" y1="176.6" x2="205.2" y2="249.9" stroke="#1a1a1a" stroke-width="0.9" />
<line x1="207.70000000000002" y1="176.6" x2="210.8" y2="249.9" stroke="#1a1a1a" stroke-width="0.9" />
<line x1="197.7" y1="186.2" x2="195.9" y2="239.9" stroke="#1a1a1a" stroke-width="0.7" />
<line x1="203.3" y1="186.2" x2="201.50000000000003" y2="239.9" stroke="#1a1a1a" stroke-width="0.7" />
<circle cx="216.2" cy="176.6" r="2.8" fill="none" stroke="#1a1a1a" stroke-width="1.0"/>
<circle cx="211.79999999999998" cy="186.2" r="2.8" fill="none" stroke="#1a1a1a" stroke-width="0.9"/>
<circle cx="210.0" cy="239.9" r="2.8" fill="none" stroke="#1a1a1a" stroke-width="0.9"/>
<circle cx="219.29999999999998" cy="249.9" r="2.8" fill="none" stroke="#1a1a1a" stroke-width="1.0"/>
<line x1="213.39999999999998" y1="176.6" x2="216.49999999999997" y2="249.9" stroke="#1a1a1a" stroke-width="0.9" />
<line x1="219.0" y1="176.6" x2="222.1" y2="249.9" stroke="#1a1a1a" stroke-width="0.9" />
<line x1="208.99999999999997" y1="186.2" x2="207.2" y2="239.9" stroke="#1a1a1a" stroke-width="0.7" />
<line x1="214.6" y1="186.2" x2="212.8" y2="239.9" stroke="#1a1a1a" stroke-width="0.7" />
<circle cx="227.2" cy="176.6" r="2.8" fill="none" stroke="#1a1a1a" stroke-width="1.0"/>
<circle cx="222.79999999999998" cy="186.2" r="2.8" fill="none" stroke="#1a1a1a" stroke-width="0.9"/>
<circle cx="221.0" cy="239.9" r="2.8" fill="none" stroke="#1a1a1a" stroke-width="0.9"/>
<circle cx="230.29999999999998" cy="249.9" r="2.8" fill="none" stroke="#1a1a1a" stroke-width="1.0"/>
<line x1="224.39999999999998" y1="176.6" x2="227.49999999999997" y2="249.9" stroke="#1a1a1a" stroke-width="0.9" />
<line x1="230.0" y1="176.6" x2="233.1" y2="249.9" stroke="#1a1a1a" stroke-width="0.9" />
<line x1="219.99999999999997" y1="186.2" x2="218.2" y2="239.9" stroke="#1a1a1a" stroke-width="0.7" />
<line x1="225.6" y1="186.2" x2="223.8" y2="239.9" stroke="#1a1a1a" stroke-width="0.7" />
<circle cx="238.1" cy="176.6" r="2.8" fill="none" stroke="#1a1a1a" stroke-width="1.0"/>
<circle cx="233.7" cy="186.2" r="2.8" fill="none" stroke="#1a1a1a" stroke-width="0.9"/>
<circle cx="231.9" cy="239.9" r="2.8" fill="none" stroke="#1a1a1a" stroke-width="0.9"/>
<circle cx="241.2" cy="249.9" r="2.8" fill="none" stroke="#1a1a1a" stroke-width="1.0"/>
<line x1="235.29999999999998" y1="176.6" x2="238.39999999999998" y2="249.9" stroke="#1a1a1a" stroke-width="0.9" />
<line x1="240.9" y1="176.6" x2="244.0" y2="249.9" stroke="#1a1a1a" stroke-width="0.9" />
<line x1="230.89999999999998" y1="186.2" x2="229.1" y2="239.9" stroke="#1a1a1a" stroke-width="0.7" />
<line x1="236.5" y1="186.2" x2="234.70000000000002" y2="239.9" stroke="#1a1a1a" stroke-width="0.7" />
<circle cx="241.2" cy="249.9" r="2.8" fill="none" stroke="#1a1a1a" stroke-width="0.8"/>
<line x1="238.5" y1="176.6" x2="238.5" y2="249.9" stroke="#1a1a1a" stroke-width="1.0" />
<circle cx="296.3" cy="176.6" r="2.8" fill="none" stroke="#1a1a1a" stroke-width="1.0"/>
<circle cx="299.3" cy="186.2" r="2.8" fill="none" stroke="#1a1a1a" stroke-width="0.9"/>
<circle cx="296.90000000000003" cy="239.9" r="2.8" fill="none" stroke="#1a1a1a" stroke-width="0.9"/>
<circle cx="299.8" cy="249.9" r="2.8" fill="none" stroke="#1a1a1a" stroke-width="1.0"/>
<line x1="293.5" y1="176.6" x2="297.0" y2="249.9" stroke="#1a1a1a" stroke-width="0.9" />
<line x1="299.1" y1="176.6" x2="302.6" y2="249.9" stroke="#1a1a1a" stroke-width="0.9" />
<line x1="296.5" y1="186.2" x2="294.1" y2="239.9" stroke="#1a1a1a" stroke-width="0.7" />
<line x1="302.1" y1="186.2" x2="299.70000000000005" y2="239.9" stroke="#1a1a1a" stroke-width="0.7" />
<circle cx="307.6" cy="176.6" r="2.8" fill="none" stroke="#1a1a1a" stroke-width="1.0"/>
<circle cx="310.6" cy="186.2" r="2.8" fill="none" stroke="#1a1a1a" stroke-width="0.9"/>
<circle cx="308.20000000000005" cy="239.9" r="2.8" fill="none" stroke="#1a1a1a" stroke-width="0.9"/>
<circle cx="311.1" cy="249.9" r="2.8" fill="none" stroke="#1a1a1a" stroke-width="1.0"/>
<line x1="304.8" y1="176.6" x2="308.3" y2="249.9" stroke="#1a1a1a" stroke-width="0.9" />
<line x1="310.40000000000003" y1="176.6" x2="313.90000000000003" y2="249.9" stroke="#1a1a1a" stroke-width="0.9" />
<line x1="307.8" y1="186.2" x2="305.40000000000003" y2="239.9" stroke="#1a1a1a" stroke-width="0.7" />
<line x1="313.40000000000003" y1="186.2" x2="311.00000000000006" y2="239.9" stroke="#1a1a1a" stroke-width="0.7" />
<circle cx="318.8" cy="176.6" r="2.8" fill="none" stroke="#1a1a1a" stroke-width="1.0"/>
<circle cx="321.8" cy="186.2" r="2.8" fill="none" stroke="#1a1a1a" stroke-width="0.9"/>
<circle cx="319.40000000000003" cy="239.9" r="2.8" fill="none" stroke="#1a1a1a" stroke-width="0.9"/>
<circle cx="322.3" cy="249.9" r="2.8" fill="none" stroke="#1a1a1a" stroke-width="1.0"/>
<line x1="316.0" y1="176.6" x2="319.5" y2="249.9" stroke="#1a1a1a" stroke-width="0.9" />
<line x1="321.6" y1="176.6" x2="325.1" y2="249.9" stroke="#1a1a1a" stroke-width="0.9" />
<line x1="319.0" y1="186.2" x2="316.6" y2="239.9" stroke="#1a1a1a" stroke-width="0.7" />
<line x1="324.6" y1="186.2" x2="322.20000000000005" y2="239.9" stroke="#1a1a1a" stroke-width="0.7" />
<circle cx="329.9" cy="176.6" r="2.8" fill="none" stroke="#1a1a1a" stroke-width="1.0"/>
<circle cx="332.9" cy="186.2" r="2.8" fill="none" stroke="#1a1a1a" stroke-width="0.9"/>
<circle cx="330.5" cy="239.9" r="2.8" fill="none" stroke="#1a1a1a" stroke-width="0.9"/>
<circle cx="333.4" cy="249.9" r="2.8" fill="none" stroke="#1a1a1a" stroke-width="1.0"/>
<line x1="327.09999999999997" y1="176.6" x2="330.59999999999997" y2="249.9" stroke="#1a1a1a" stroke-width="0.9" />
<line x1="332.7" y1="176.6" x2="336.2" y2="249.9" stroke="#1a1a1a" stroke-width="0.9" />
<line x1="330.09999999999997" y1="186.2" x2="327.7" y2="239.9" stroke="#1a1a1a" stroke-width="0.7" />
<line x1="335.7" y1="186.2" x2="333.3" y2="239.9" stroke="#1a1a1a" stroke-width="0.7" />
<circle cx="340.8" cy="176.6" r="2.8" fill="none" stroke="#1a1a1a" stroke-width="1.0"/>
<circle cx="343.8" cy="186.2" r="2.8" fill="none" stroke="#1a1a1a" stroke-width="0.9"/>
<circle cx="341.40000000000003" cy="239.9" r="2.8" fill="none" stroke="#1a1a1a" stroke-width="0.9"/>
<circle cx="344.3" cy="249.9" r="2.8" fill="none" stroke="#1a1a1a" stroke-width="1.0"/>
<line x1="338.0" y1="176.6" x2="341.5" y2="249.9" stroke="#1a1a1a" stroke-width="0.9" />
<line x1="343.6" y1="176.6" x2="347.1" y2="249.9" stroke="#1a1a1a" stroke-width="0.9" />
<line x1="341.0" y1="186.2" x2="338.6" y2="239.9" stroke="#1a1a1a" stroke-width="0.7" />
<line x1="346.6" y1="186.2" x2="344.20000000000005" y2="239.9" stroke="#1a1a1a" stroke-width="0.7" />
<circle cx="352.1" cy="176.6" r="2.8" fill="none" stroke="#1a1a1a" stroke-width="1.0"/>
<circle cx="355.1" cy="186.2" r="2.8" fill="none" stroke="#1a1a1a" stroke-width="0.9"/>
<circle cx="352.70000000000005" cy="239.9" r="2.8" fill="none" stroke="#1a1a1a" stroke-width="0.9"/>
<circle cx="355.6" cy="249.9" r="2.8" fill="none" stroke="#1a1a1a" stroke-width="1.0"/>
<line x1="349.3" y1="176.6" x2="352.8" y2="249.9" stroke="#1a1a1a" stroke-width="0.9" />
<line x1="354.90000000000003" y1="176.6" x2="358.40000000000003" y2="249.9" stroke="#1a1a1a" stroke-width="0.9" />
<line x1="352.3" y1="186.2" x2="349.90000000000003" y2="239.9" stroke="#1a1a1a" stroke-width="0.7" />
<line x1="357.90000000000003" y1="186.2" x2="355.50000000000006" y2="239.9" stroke="#1a1a1a" stroke-width="0.7" />
<line x1="194.3" y1="176.5" x2="370" y2="176.5" stroke="#1a1a1a" stroke-width="1.0" />
<line x1="194.3" y1="186.5" x2="370" y2="186.5" stroke="#1a1a1a" stroke-width="1.0" />
<line x1="194.3" y1="239.5" x2="370" y2="239.5" stroke="#1a1a1a" stroke-width="1.0" />
<line x1="194.3" y1="249.5" x2="370" y2="249.5" stroke="#1a1a1a" stroke-width="1.0" />
<line x1="194.5" y1="171" x2="194.5" y2="255.2" stroke="#1a1a1a" stroke-width="1.0" />
<clipPath id="c6"><rect x="355.5" y="171.5" width="18.0" height="84.0" rx="0"/></clipPath>
<rect x="355.5" y="171.5" width="18.0" height="84.0" rx="0" fill="#fff" stroke="none"/>
<path d="M266.6,170.5L352.6,256.5M269.7,170.5L355.7,256.5M272.8,170.5L358.8,256.5M275.9,170.5L361.9,256.5M279.0,170.5L365.0,256.5M282.1,170.5L368.1,256.5M285.2,170.5L371.2,256.5M288.3,170.5L374.3,256.5M291.4,170.5L377.4,256.5M294.5,170.5L380.5,256.5M297.6,170.5L383.6,256.5M300.7,170.5L386.7,256.5M303.8,170.5L389.8,256.5M306.9,170.5L392.9,256.5M310.0,170.5L396.0,256.5M313.1,170.5L399.1,256.5M316.2,170.5L402.2,256.5M319.3,170.5L405.3,256.5M322.4,170.5L408.4,256.5M325.5,170.5L411.5,256.5M328.6,170.5L414.6,256.5M331.7,170.5L417.7,256.5M334.8,170.5L420.8,256.5M337.9,170.5L423.9,256.5M341.0,170.5L427.0,256.5M344.1,170.5L430.1,256.5M347.2,170.5L433.2,256.5M350.3,170.5L436.3,256.5M353.4,170.5L439.4,256.5M356.5,170.5L442.5,256.5M359.6,170.5L445.6,256.5M362.7,170.5L448.7,256.5M365.8,170.5L451.8,256.5M368.9,170.5L454.9,256.5M372.0,170.5L458.0,256.5M375.1,170.5L461.1,256.5" stroke="#1a1a1a" stroke-width="0.85" clip-path="url(#c6)"/>
<rect x="355.5" y="171.5" width="18.0" height="84.0" rx="0" fill="none" stroke="#1a1a1a" stroke-width="1.0"/>
<rect x="355.7" y="193.5" width="3.5" height="6.5" fill="#fff" stroke="#1a1a1a" stroke-width="0.7" rx="0" />
<rect x="368.5" y="193.5" width="5.0" height="7.0" fill="#fff" stroke="#1a1a1a" stroke-width="1.0" rx="0" />
<rect x="355.7" y="226.8" width="3.5" height="6.5" fill="#fff" stroke="#1a1a1a" stroke-width="0.7" rx="0" />
<rect x="368.5" y="226.5" width="5.0" height="7.0" fill="#fff" stroke="#1a1a1a" stroke-width="1.0" rx="0" />
<path d="M350,207.2 L368,207.2 L368,218.4 L350,218.4 Q347,218 347,212.8 Q347,207.5 350,207.2 Z" fill="#fff" stroke="#1a1a1a" stroke-width="0.9" />
<rect x="366" y="207.2" width="3" height="11.2" fill="#555" stroke="#1a1a1a" stroke-width="0" rx="0" />
<line x1="270" y1="213.5" x2="372" y2="213.5" stroke="#1a1a1a" stroke-width="1.0" />
<clipPath id="c7"><polygon points="370,166.8 388,166.8 391,160 391,133 410,133 410,155 418,163 426,167 430,167 430,152 428,152 428,145 470,145 470,152 468,152 468,167 474,167 482,163 490,155 490,133 508,133 508,160 512,166.8 530,166.8 530,171.1 459,171.1 459,152 438,152 438,171.1 370,171.1"/></clipPath>
<polygon points="370,166.8 388,166.8 391,160 391,133 410,133 410,155 418,163 426,167 430,167 430,152 428,152 428,145 470,145 470,152 468,152 468,167 474,167 482,163 490,155 490,133 508,133 508,160 512,166.8 530,166.8 530,171.1 459,171.1 459,152 438,152 438,171.1 370,171.1" fill="#fff" stroke="none"/>
<path d="M327.0,172.1L367.1,132.0M330.1,172.1L370.2,132.0M333.2,172.1L373.3,132.0M336.3,172.1L376.4,132.0M339.4,172.1L379.5,132.0M342.5,172.1L382.6,132.0M345.6,172.1L385.7,132.0M348.7,172.1L388.8,132.0M351.8,172.1L391.9,132.0M354.9,172.1L395.0,132.0M358.0,172.1L398.1,132.0M361.1,172.1L401.2,132.0M364.2,172.1L404.3,132.0M367.3,172.1L407.4,132.0M370.4,172.1L410.5,132.0M373.5,172.1L413.6,132.0M376.6,172.1L416.7,132.0M379.7,172.1L419.8,132.0M382.8,172.1L422.9,132.0M385.9,172.1L426.0,132.0M389.0,172.1L429.1,132.0M392.1,172.1L432.2,132.0M395.2,172.1L435.3,132.0M398.3,172.1L438.4,132.0M401.4,172.1L441.5,132.0M404.5,172.1L444.6,132.0M407.6,172.1L447.7,132.0M410.7,172.1L450.8,132.0M413.8,172.1L453.9,132.0M416.9,172.1L457.0,132.0M420.0,172.1L460.1,132.0M423.1,172.1L463.2,132.0M426.2,172.1L466.3,132.0M429.3,172.1L469.4,132.0M432.4,172.1L472.5,132.0M435.5,172.1L475.6,132.0M438.6,172.1L478.7,132.0M441.7,172.1L481.8,132.0M444.8,172.1L484.9,132.0M447.9,172.1L488.0,132.0M451.0,172.1L491.1,132.0M454.1,172.1L494.2,132.0M457.2,172.1L497.3,132.0M460.3,172.1L500.4,132.0M463.4,172.1L503.5,132.0M466.5,172.1L506.6,132.0M469.6,172.1L509.7,132.0M472.7,172.1L512.8,132.0M475.8,172.1L515.9,132.0M478.9,172.1L519.0,132.0M482.0,172.1L522.1,132.0M485.1,172.1L525.2,132.0M488.2,172.1L528.3,132.0M491.3,172.1L531.4,132.0M494.4,172.1L534.5,132.0M497.5,172.1L537.6,132.0M500.6,172.1L540.7,132.0M503.7,172.1L543.8,132.0M506.8,172.1L546.9,132.0M509.9,172.1L550.0,132.0M513.0,172.1L553.1,132.0M516.1,172.1L556.2,132.0M519.2,172.1L559.3,132.0M522.3,172.1L562.4,132.0M525.4,172.1L565.5,132.0M528.5,172.1L568.6,132.0M531.6,172.1L571.7,132.0" stroke="#1a1a1a" stroke-width="0.85" clip-path="url(#c7)"/>
<polygon points="370,166.8 388,166.8 391,160 391,133 410,133 410,155 418,163 426,167 430,167 430,152 428,152 428,145 470,145 470,152 468,152 468,167 474,167 482,163 490,155 490,133 508,133 508,160 512,166.8 530,166.8 530,171.1 459,171.1 459,152 438,152 438,171.1 370,171.1" fill="none" stroke="#1a1a1a" stroke-width="0.9"/>
<rect x="397.5" y="135.5" width="10.0" height="33.0" fill="#fff" stroke="#1a1a1a" stroke-width="1.0" rx="0" />
<line x1="398.5" y1="137" x2="398.5" y2="166" stroke="#1a1a1a" stroke-width="1.0" />
<line x1="405.5" y1="137" x2="405.5" y2="166" stroke="#1a1a1a" stroke-width="1.0" />
<line x1="402.5" y1="131" x2="402.5" y2="170" stroke="#1a1a1a" stroke-width="1.0" />
<rect x="495.5" y="135.5" width="10.0" height="33.0" fill="#fff" stroke="#1a1a1a" stroke-width="1.0" rx="0" />
<line x1="496.5" y1="137" x2="496.5" y2="166" stroke="#1a1a1a" stroke-width="1.0" />
<line x1="503.5" y1="137" x2="503.5" y2="166" stroke="#1a1a1a" stroke-width="1.0" />
<line x1="500.5" y1="131" x2="500.5" y2="170" stroke="#1a1a1a" stroke-width="1.0" />
<rect x="440.5" y="124.5" width="17.0" height="15.0" fill="#fff" stroke="#1a1a1a" stroke-width="1.0" rx="0" />
<rect x="438.5" y="139.5" width="21.0" height="111.0" fill="#fff" stroke="#1a1a1a" stroke-width="1.0" rx="0" />
<line x1="438" y1="146.5" x2="459" y2="146.5" stroke="#1a1a1a" stroke-width="1.0" />
<line x1="438" y1="147.5" x2="459" y2="147.5" stroke="#1a1a1a" stroke-width="1.0" />
<line x1="438" y1="149.5" x2="459" y2="149.5" stroke="#1a1a1a" stroke-width="1.0" />
<line x1="438" y1="175.5" x2="459" y2="175.5" stroke="#1a1a1a" stroke-width="1.0" />
<line x1="438" y1="199.5" x2="459" y2="199.5" stroke="#1a1a1a" stroke-width="1.0" />
<line x1="438" y1="226.5" x2="459" y2="226.5" stroke="#1a1a1a" stroke-width="1.0" />
<line x1="448.5" y1="121" x2="448.5" y2="250" stroke="#1a1a1a" stroke-width="1.0" />
<clipPath id="c8"><polygon points="438,176 432,180 430,186 430,244 432,248 438,250"/></clipPath>
<polygon points="438,176 432,180 430,186 430,244 432,248 438,250" fill="#fff" stroke="none"/>
<path d="M350.4,251.0L426.4,175.0M353.5,251.0L429.5,175.0M356.6,251.0L432.6,175.0M359.7,251.0L435.7,175.0M362.8,251.0L438.8,175.0M365.9,251.0L441.9,175.0M369.0,251.0L445.0,175.0M372.1,251.0L448.1,175.0M375.2,251.0L451.2,175.0M378.3,251.0L454.3,175.0M381.4,251.0L457.4,175.0M384.5,251.0L460.5,175.0M387.6,251.0L463.6,175.0M390.7,251.0L466.7,175.0M393.8,251.0L469.8,175.0M396.9,251.0L472.9,175.0M400.0,251.0L476.0,175.0M403.1,251.0L479.1,175.0M406.2,251.0L482.2,175.0M409.3,251.0L485.3,175.0M412.4,251.0L488.4,175.0M415.5,251.0L491.5,175.0M418.6,251.0L494.6,175.0M421.7,251.0L497.7,175.0M424.8,251.0L500.8,175.0M427.9,251.0L503.9,175.0M431.0,251.0L507.0,175.0M434.1,251.0L510.1,175.0M437.2,251.0L513.2,175.0M440.3,251.0L516.3,175.0" stroke="#1a1a1a" stroke-width="0.85" clip-path="url(#c8)"/>
<polygon points="438,176 432,180 430,186 430,244 432,248 438,250" fill="none" stroke="#1a1a1a" stroke-width="0.8"/>
<clipPath id="c9"><rect x="459.5" y="176.5" width="6.0" height="74.0" rx="0"/></clipPath>
<rect x="459.5" y="176.5" width="6.0" height="74.0" rx="0" fill="#fff" stroke="none"/>
<path d="M380.9,251.5L456.9,175.5M384.0,251.5L460.0,175.5M387.1,251.5L463.1,175.5M390.2,251.5L466.2,175.5M393.3,251.5L469.3,175.5M396.4,251.5L472.4,175.5M399.5,251.5L475.5,175.5M402.6,251.5L478.6,175.5M405.7,251.5L481.7,175.5M408.8,251.5L484.8,175.5M411.9,251.5L487.9,175.5M415.0,251.5L491.0,175.5M418.1,251.5L494.1,175.5M421.2,251.5L497.2,175.5M424.3,251.5L500.3,175.5M427.4,251.5L503.4,175.5M430.5,251.5L506.5,175.5M433.6,251.5L509.6,175.5M436.7,251.5L512.7,175.5M439.8,251.5L515.8,175.5M442.9,251.5L518.9,175.5M446.0,251.5L522.0,175.5M449.1,251.5L525.1,175.5M452.2,251.5L528.2,175.5M455.3,251.5L531.3,175.5M458.4,251.5L534.4,175.5M461.5,251.5L537.5,175.5M464.6,251.5L540.6,175.5M467.7,251.5L543.7,175.5" stroke="#1a1a1a" stroke-width="0.85" clip-path="url(#c9)"/>
<rect x="459.5" y="176.5" width="6.0" height="74.0" rx="0" fill="none" stroke="#1a1a1a" stroke-width="1.0"/>
<rect x="465.5" y="175.5" width="13.0" height="75.0" fill="#fff" stroke="#1a1a1a" stroke-width="1.0" rx="0" />
<line x1="468.5" y1="175" x2="468.5" y2="250" stroke="#1a1a1a" stroke-width="1.0" />
<line x1="471.5" y1="175" x2="471.5" y2="250" stroke="#1a1a1a" stroke-width="1.0" />
<line x1="475.5" y1="175" x2="475.5" y2="250" stroke="#1a1a1a" stroke-width="1.0" />
<rect x="478.5" y="179.5" width="12.0" height="23.0" fill="#fff" stroke="#1a1a1a" stroke-width="1.0" rx="0" />
<rect x="478.5" y="224.5" width="12.0" height="24.0" fill="#fff" stroke="#1a1a1a" stroke-width="1.0" rx="0" />
<line x1="373.5" y1="204.5" x2="430" y2="204.5" stroke="#1a1a1a" stroke-width="1.0" />
<line x1="478" y1="204.5" x2="618.4" y2="204.5" stroke="#1a1a1a" stroke-width="1.0" />
<line x1="373.5" y1="223.5" x2="430" y2="223.5" stroke="#1a1a1a" stroke-width="1.0" />
<line x1="478" y1="223.5" x2="618.4" y2="223.5" stroke="#1a1a1a" stroke-width="1.0" />
<line x1="373.5" y1="213.5" x2="618.4" y2="213.5" stroke="#1a1a1a" stroke-width="1.0" />
<clipPath id="c10"><rect x="378" y="201" width="31" height="3" rx="0"/></clipPath>
<rect x="378" y="201" width="31" height="3" rx="0" fill="#fff" stroke="none"/>
<path d="M371.6,205.0L376.6,200.0M374.7,205.0L379.7,200.0M377.8,205.0L382.8,200.0M380.9,205.0L385.9,200.0M384.0,205.0L389.0,200.0M387.1,205.0L392.1,200.0M390.2,205.0L395.2,200.0M393.3,205.0L398.3,200.0M396.4,205.0L401.4,200.0M399.5,205.0L404.5,200.0M402.6,205.0L407.6,200.0M405.7,205.0L410.7,200.0M408.8,205.0L413.8,200.0M411.9,205.0L416.9,200.0" stroke="#1a1a1a" stroke-width="0.85" clip-path="url(#c10)"/>
<rect x="378" y="201" width="31" height="3" rx="0" fill="none" stroke="#1a1a1a" stroke-width="0.6"/>
<clipPath id="c11"><rect x="378" y="223" width="31" height="3" rx="0"/></clipPath>
<rect x="378" y="223" width="31" height="3" rx="0" fill="#fff" stroke="none"/>
<path d="M371.3,227.0L376.3,222.0M374.4,227.0L379.4,222.0M377.5,227.0L382.5,222.0M380.6,227.0L385.6,222.0M383.7,227.0L388.7,222.0M386.8,227.0L391.8,222.0M389.9,227.0L394.9,222.0M393.0,227.0L398.0,222.0M396.1,227.0L401.1,222.0M399.2,227.0L404.2,222.0M402.3,227.0L407.3,222.0M405.4,227.0L410.4,222.0M408.5,227.0L413.5,222.0M411.6,227.0L416.6,222.0" stroke="#1a1a1a" stroke-width="0.85" clip-path="url(#c11)"/>
<rect x="378" y="223" width="31" height="3" rx="0" fill="none" stroke="#1a1a1a" stroke-width="0.6"/>
<clipPath id="c12"><rect x="490" y="201" width="30" height="3" rx="0"/></clipPath>
<rect x="490" y="201" width="30" height="3" rx="0" fill="#fff" stroke="none"/>
<path d="M483.2,205.0L488.2,200.0M486.3,205.0L491.3,200.0M489.4,205.0L494.4,200.0M492.5,205.0L497.5,200.0M495.6,205.0L500.6,200.0M498.7,205.0L503.7,200.0M501.8,205.0L506.8,200.0M504.9,205.0L509.9,200.0M508.0,205.0L513.0,200.0M511.1,205.0L516.1,200.0M514.2,205.0L519.2,200.0M517.3,205.0L522.3,200.0M520.4,205.0L525.4,200.0M523.5,205.0L528.5,200.0" stroke="#1a1a1a" stroke-width="0.85" clip-path="url(#c12)"/>
<rect x="490" y="201" width="30" height="3" rx="0" fill="none" stroke="#1a1a1a" stroke-width="0.6"/>
<clipPath id="c13"><rect x="490" y="223" width="30" height="3" rx="0"/></clipPath>
<rect x="490" y="223" width="30" height="3" rx="0" fill="#fff" stroke="none"/>
<path d="M482.9,227.0L487.9,222.0M486.0,227.0L491.0,222.0M489.1,227.0L494.1,222.0M492.2,227.0L497.2,222.0M495.3,227.0L500.3,222.0M498.4,227.0L503.4,222.0M501.5,227.0L506.5,222.0M504.6,227.0L509.6,222.0M507.7,227.0L512.7,222.0M510.8,227.0L515.8,222.0M513.9,227.0L518.9,222.0M517.0,227.0L522.0,222.0M520.1,227.0L525.1,222.0M523.2,227.0L528.2,222.0" stroke="#1a1a1a" stroke-width="0.85" clip-path="url(#c13)"/>
<rect x="490" y="223" width="30" height="3" rx="0" fill="none" stroke="#1a1a1a" stroke-width="0.6"/>
<clipPath id="c14"><polygon points="383,171.1 397,171.1 397,200 393,200 392,190 388,190 387,200 383,200"/></clipPath>
<polygon points="383,171.1 397,171.1 397,200 393,200 392,190 388,190 387,200 383,200" fill="#fff" stroke="none"/>
<path d="M349.9,170.1L380.8,201.0M353.0,170.1L383.9,201.0M356.1,170.1L387.0,201.0M359.2,170.1L390.1,201.0M362.3,170.1L393.2,201.0M365.4,170.1L396.3,201.0M368.5,170.1L399.4,201.0M371.6,170.1L402.5,201.0M374.7,170.1L405.6,201.0M377.8,170.1L408.7,201.0M380.9,170.1L411.8,201.0M384.0,170.1L414.9,201.0M387.1,170.1L418.0,201.0M390.2,170.1L421.1,201.0M393.3,170.1L424.2,201.0M396.4,170.1L427.3,201.0M399.5,170.1L430.4,201.0" stroke="#1a1a1a" stroke-width="0.85" clip-path="url(#c14)"/>
<polygon points="383,171.1 397,171.1 397,200 393,200 392,190 388,190 387,200 383,200" fill="none" stroke="#1a1a1a" stroke-width="0.8"/>
<rect x="384.5" y="178.5" width="12.0" height="10.0" fill="#fff" stroke="#1a1a1a" stroke-width="1.0" rx="0" />
<clipPath id="c15"><polygon points="383,226 387,226 388,236 392,236 393,226 397,226 397,254 383,254"/></clipPath>
<polygon points="383,226 387,226 388,236 392,236 393,226 397,226 397,254 383,254" fill="#fff" stroke="none"/>
<path d="M349.0,225.0L379.0,255.0M352.1,225.0L382.1,255.0M355.2,225.0L385.2,255.0M358.3,225.0L388.3,255.0M361.4,225.0L391.4,255.0M364.5,225.0L394.5,255.0M367.6,225.0L397.6,255.0M370.7,225.0L400.7,255.0M373.8,225.0L403.8,255.0M376.9,225.0L406.9,255.0M380.0,225.0L410.0,255.0M383.1,225.0L413.1,255.0M386.2,225.0L416.2,255.0M389.3,225.0L419.3,255.0M392.4,225.0L422.4,255.0M395.5,225.0L425.5,255.0M398.6,225.0L428.6,255.0" stroke="#1a1a1a" stroke-width="0.85" clip-path="url(#c15)"/>
<polygon points="383,226 387,226 388,236 392,236 393,226 397,226 397,254 383,254" fill="none" stroke="#1a1a1a" stroke-width="0.8"/>
<rect x="384.5" y="238.5" width="12.0" height="10.0" fill="#fff" stroke="#1a1a1a" stroke-width="1.0" rx="0" />
<clipPath id="c16"><polygon points="503,171.1 517,171.1 517,200 513,200 512,190 508,190 507,200 503,200"/></clipPath>
<polygon points="503,171.1 517,171.1 517,200 513,200 512,190 508,190 507,200 503,200" fill="#fff" stroke="none"/>
<path d="M470.8,170.1L501.7,201.0M473.9,170.1L504.8,201.0M477.0,170.1L507.9,201.0M480.1,170.1L511.0,201.0M483.2,170.1L514.1,201.0M486.3,170.1L517.2,201.0M489.4,170.1L520.3,201.0M492.5,170.1L523.4,201.0M495.6,170.1L526.5,201.0M498.7,170.1L529.6,201.0M501.8,170.1L532.7,201.0M504.9,170.1L535.8,201.0M508.0,170.1L538.9,201.0M511.1,170.1L542.0,201.0M514.2,170.1L545.1,201.0M517.3,170.1L548.2,201.0M520.4,170.1L551.3,201.0" stroke="#1a1a1a" stroke-width="0.85" clip-path="url(#c16)"/>
<polygon points="503,171.1 517,171.1 517,200 513,200 512,190 508,190 507,200 503,200" fill="none" stroke="#1a1a1a" stroke-width="0.8"/>
<rect x="504.5" y="178.5" width="12.0" height="10.0" fill="#fff" stroke="#1a1a1a" stroke-width="1.0" rx="0" />
<clipPath id="c17"><polygon points="503,226 507,226 508,236 512,236 513,226 517,226 517,254 503,254"/></clipPath>
<polygon points="503,226 507,226 508,236 512,236 513,226 517,226 517,254 503,254" fill="#fff" stroke="none"/>
<path d="M469.9,225.0L499.9,255.0M473.0,225.0L503.0,255.0M476.1,225.0L506.1,255.0M479.2,225.0L509.2,255.0M482.3,225.0L512.3,255.0M485.4,225.0L515.4,255.0M488.5,225.0L518.5,255.0M491.6,225.0L521.6,255.0M494.7,225.0L524.7,255.0M497.8,225.0L527.8,255.0M500.9,225.0L530.9,255.0M504.0,225.0L534.0,255.0M507.1,225.0L537.1,255.0M510.2,225.0L540.2,255.0M513.3,225.0L543.3,255.0M516.4,225.0L546.4,255.0M519.5,225.0L549.5,255.0" stroke="#1a1a1a" stroke-width="0.85" clip-path="url(#c17)"/>
<polygon points="503,226 507,226 508,236 512,236 513,226 517,226 517,254 503,254" fill="none" stroke="#1a1a1a" stroke-width="0.8"/>
<rect x="504.5" y="238.5" width="12.0" height="10.0" fill="#fff" stroke="#1a1a1a" stroke-width="1.0" rx="0" />
<rect x="375.5" y="171.5" width="8.0" height="84.0" fill="none" stroke="#1a1a1a" stroke-width="1.0" rx="0" />
<clipPath id="c18"><polygon points="370,254.75 404,254.75 411.75,250.25 434.25,250.25 434.25,268.5 418.5,268.25 412,266 408.4,263.75 408.4,293 389.25,293 389.25,259.25 370,259.25"/></clipPath>
<polygon points="370,254.75 404,254.75 411.75,250.25 434.25,250.25 434.25,268.5 418.5,268.25 412,266 408.4,263.75 408.4,293 389.25,293 389.25,259.25 370,259.25" fill="#fff" stroke="none"/>
<path d="M323.6,249.2L368.4,294.0M326.8,249.2L371.5,294.0M329.9,249.2L374.6,294.0M332.9,249.2L377.7,294.0M336.0,249.2L380.8,294.0M339.1,249.2L383.9,294.0M342.2,249.2L387.0,294.0M345.3,249.2L390.1,294.0M348.4,249.2L393.2,294.0M351.5,249.2L396.3,294.0M354.6,249.2L399.4,294.0M357.7,249.2L402.5,294.0M360.8,249.2L405.6,294.0M363.9,249.2L408.7,294.0M367.0,249.2L411.8,294.0M370.1,249.2L414.9,294.0M373.2,249.2L418.0,294.0M376.3,249.2L421.1,294.0M379.4,249.2L424.2,294.0M382.5,249.2L427.3,294.0M385.6,249.2L430.4,294.0M388.7,249.2L433.5,294.0M391.8,249.2L436.6,294.0M394.9,249.2L439.7,294.0M398.0,249.2L442.8,294.0M401.1,249.2L445.9,294.0M404.2,249.2L449.0,294.0M407.3,249.2L452.1,294.0M410.4,249.2L455.2,294.0M413.5,249.2L458.3,294.0M416.6,249.2L461.4,294.0M419.7,249.2L464.5,294.0M422.8,249.2L467.6,294.0M425.9,249.2L470.7,294.0M429.0,249.2L473.8,294.0M432.1,249.2L476.9,294.0M435.2,249.2L480.0,294.0M438.3,249.2L483.1,294.0" stroke="#1a1a1a" stroke-width="0.85" clip-path="url(#c18)"/>
<polygon points="370,254.75 404,254.75 411.75,250.25 434.25,250.25 434.25,268.5 418.5,268.25 412,266 408.4,263.75 408.4,293 389.25,293 389.25,259.25 370,259.25" fill="none" stroke="#1a1a1a" stroke-width="0.9"/>
<clipPath id="c19"><polygon points="464.6,250.25 486,250.25 493,254.75 530,254.75 530,259.25 507.4,259.25 507.4,293 490.5,293 490.5,263.75 486,266 480,268.25 464.6,268.5"/></clipPath>
<polygon points="464.6,250.25 486,250.25 493,254.75 530,254.75 530,259.25 507.4,259.25 507.4,293 490.5,293 490.5,263.75 486,266 480,268.25 464.6,268.5" fill="#fff" stroke="none"/>
<path d="M416.6,249.2L461.4,294.0M419.8,249.2L464.5,294.0M422.9,249.2L467.6,294.0M425.9,249.2L470.7,294.0M429.0,249.2L473.8,294.0M432.1,249.2L476.9,294.0M435.2,249.2L480.0,294.0M438.3,249.2L483.1,294.0M441.4,249.2L486.2,294.0M444.5,249.2L489.3,294.0M447.6,249.2L492.4,294.0M450.7,249.2L495.5,294.0M453.8,249.2L498.6,294.0M456.9,249.2L501.7,294.0M460.0,249.2L504.8,294.0M463.1,249.2L507.9,294.0M466.2,249.2L511.0,294.0M469.3,249.2L514.1,294.0M472.4,249.2L517.2,294.0M475.5,249.2L520.3,294.0M478.6,249.2L523.4,294.0M481.7,249.2L526.5,294.0M484.8,249.2L529.6,294.0M487.9,249.2L532.7,294.0M491.0,249.2L535.8,294.0M494.1,249.2L538.9,294.0M497.2,249.2L542.0,294.0M500.3,249.2L545.1,294.0M503.4,249.2L548.2,294.0M506.5,249.2L551.3,294.0M509.6,249.2L554.4,294.0M512.7,249.2L557.5,294.0M515.8,249.2L560.6,294.0M518.9,249.2L563.7,294.0M522.0,249.2L566.8,294.0M525.1,249.2L569.9,294.0M528.2,249.2L573.0,294.0M531.4,249.2L576.1,294.0" stroke="#1a1a1a" stroke-width="0.85" clip-path="url(#c19)"/>
<polygon points="464.6,250.25 486,250.25 493,254.75 530,254.75 530,259.25 507.4,259.25 507.4,293 490.5,293 490.5,263.75 486,266 480,268.25 464.6,268.5" fill="none" stroke="#1a1a1a" stroke-width="0.9"/>
<path d="M419.5,250.25 A3.3,3.3 0 0 0 426.1,250.25" fill="#fff" stroke="#1a1a1a" stroke-width="0.8" />
<path d="M472,250.25 A3.3,3.3 0 0 0 478.6,250.25" fill="#fff" stroke="#1a1a1a" stroke-width="0.8" />
<rect x="434.25" y="250.25" width="30.35" height="20.25" fill="#fff" stroke="#1a1a1a" stroke-width="1"/>
<line x1="434.25" y1="256" x2="464.6" y2="256" stroke="#1a1a1a" stroke-width="0.8"/>
<line x1="434.25" y1="259.5" x2="464.6" y2="259.5" stroke="#1a1a1a" stroke-width="0.8"/>
<line x1="434.25" y1="264.5" x2="464.6" y2="264.5" stroke="#1a1a1a" stroke-width="1.6"/>
<line x1="434.25" y1="270.5" x2="464.6" y2="270.5" stroke="#1a1a1a" stroke-width="0.9"/>
<line x1="448.5" y1="250" x2="448.5" y2="270" stroke="#1a1a1a" stroke-width="1.0" />
<clipPath id="c20"><rect x="618.5" y="171.5" width="17.0" height="84.0" rx="0"/></clipPath>
<rect x="618.5" y="171.5" width="17.0" height="84.0" rx="0" fill="#fff" stroke="none"/>
<path d="M530.1,170.5L616.1,256.5M533.2,170.5L619.2,256.5M536.3,170.5L622.3,256.5M539.4,170.5L625.4,256.5M542.5,170.5L628.5,256.5M545.6,170.5L631.6,256.5M548.7,170.5L634.7,256.5M551.8,170.5L637.8,256.5M554.9,170.5L640.9,256.5M558.0,170.5L644.0,256.5M561.1,170.5L647.1,256.5M564.2,170.5L650.2,256.5M567.3,170.5L653.3,256.5M570.4,170.5L656.4,256.5M573.5,170.5L659.5,256.5M576.6,170.5L662.6,256.5M579.7,170.5L665.7,256.5M582.8,170.5L668.8,256.5M585.9,170.5L671.9,256.5M589.0,170.5L675.0,256.5M592.1,170.5L678.1,256.5M595.2,170.5L681.2,256.5M598.3,170.5L684.3,256.5M601.4,170.5L687.4,256.5M604.5,170.5L690.5,256.5M607.6,170.5L693.6,256.5M610.7,170.5L696.7,256.5M613.8,170.5L699.8,256.5M616.9,170.5L702.9,256.5M620.0,170.5L706.0,256.5M623.1,170.5L709.1,256.5M626.2,170.5L712.2,256.5M629.3,170.5L715.3,256.5M632.4,170.5L718.4,256.5M635.5,170.5L721.5,256.5M638.6,170.5L724.6,256.5" stroke="#1a1a1a" stroke-width="0.85" clip-path="url(#c20)"/>
<rect x="618.5" y="171.5" width="17.0" height="84.0" rx="0" fill="none" stroke="#1a1a1a" stroke-width="1.0"/>
<rect x="619.3" y="184" width="3.5" height="13.5" fill="#fff" stroke="#1a1a1a" stroke-width="0.9"/>
<rect x="632" y="184" width="3.6" height="13.5" fill="#fff" stroke="#1a1a1a" stroke-width="0.9"/>
<rect x="619.3" y="229" width="3.5" height="13.5" fill="#fff" stroke="#1a1a1a" stroke-width="0.9"/>
<rect x="632" y="229" width="3.6" height="13.5" fill="#fff" stroke="#1a1a1a" stroke-width="0.9"/>
<rect x="619" y="207.6" width="18" height="11.2" fill="#fff" stroke="#1a1a1a" stroke-width="1"/>
<line x1="620.5" y1="207.6" x2="620.5" y2="218.8" stroke="#1a1a1a" stroke-width="1.0" />
<line x1="622.5" y1="207.6" x2="622.5" y2="218.8" stroke="#1a1a1a" stroke-width="1.0" />
<path d="M635,203.2 L639,203.2 Q640.7,203.2 640.7,205.2 L640.7,221 Q640.7,223 639,223 L635,223" fill="none" stroke="#1a1a1a" stroke-width="1.3" />
<rect x="635.5" y="171.5" width="7.0" height="84.0" fill="#fff" stroke="#1a1a1a" stroke-width="1.0" rx="0" />
<rect x="642.5" y="171.5" width="11.0" height="84.0" fill="#fff" stroke="#1a1a1a" stroke-width="1.0" rx="0" />
<clipPath id="c21"><rect x="642.5" y="171.5" width="11.0" height="5.0" rx="0"/></clipPath>
<rect x="642.5" y="171.5" width="11.0" height="5.0" rx="0" fill="#fff" stroke="none"/>
<path d="M631.6,177.5L638.6,170.5M634.7,177.5L641.7,170.5M637.8,177.5L644.8,170.5M640.9,177.5L647.9,170.5M644.0,177.5L651.0,170.5M647.1,177.5L654.1,170.5M650.2,177.5L657.2,170.5M653.3,177.5L660.3,170.5M656.4,177.5L663.4,170.5" stroke="#1a1a1a" stroke-width="0.85" clip-path="url(#c21)"/>
<rect x="642.5" y="171.5" width="11.0" height="5.0" rx="0" fill="none" stroke="#1a1a1a" stroke-width="1.0"/>
<clipPath id="c22"><rect x="642.5" y="249.5" width="11.0" height="6.0" rx="0"/></clipPath>
<rect x="642.5" y="249.5" width="11.0" height="6.0" rx="0" fill="#fff" stroke="none"/>
<path d="M633.2,256.5L641.2,248.5M636.3,256.5L644.3,248.5M639.4,256.5L647.4,248.5M642.5,256.5L650.5,248.5M645.6,256.5L653.6,248.5M648.7,256.5L656.7,248.5M651.8,256.5L659.8,248.5M654.9,256.5L662.9,248.5" stroke="#1a1a1a" stroke-width="0.85" clip-path="url(#c22)"/>
<rect x="642.5" y="249.5" width="11.0" height="6.0" rx="0" fill="none" stroke="#1a1a1a" stroke-width="1.0"/>
<clipPath id="c23"><polygon points="653.4,142.2 663.2,142.2 663.2,160 666,164 669,173.5 671,180 678.7,186 679.2,186 679.2,238.3 678.7,238.3 671,246 669,251 666,260.6 663.2,266 663.2,284 653.4,284"/></clipPath>
<polygon points="653.4,142.2 663.2,142.2 663.2,160 666,164 669,173.5 671,180 678.7,186 679.2,186 679.2,238.3 678.7,238.3 671,246 669,251 666,260.6 663.2,266 663.2,284 653.4,284" fill="#fff" stroke="none"/>
<path d="M507.0,141.2L650.8,285.0M510.1,141.2L653.9,285.0M513.2,141.2L657.0,285.0M516.3,141.2L660.1,285.0M519.4,141.2L663.2,285.0M522.5,141.2L666.3,285.0M525.6,141.2L669.4,285.0M528.7,141.2L672.5,285.0M531.8,141.2L675.6,285.0M534.9,141.2L678.7,285.0M538.0,141.2L681.8,285.0M541.1,141.2L684.9,285.0M544.2,141.2L688.0,285.0M547.3,141.2L691.1,285.0M550.4,141.2L694.2,285.0M553.5,141.2L697.3,285.0M556.6,141.2L700.4,285.0M559.7,141.2L703.5,285.0M562.8,141.2L706.6,285.0M565.9,141.2L709.7,285.0M569.0,141.2L712.8,285.0M572.1,141.2L715.9,285.0M575.2,141.2L719.0,285.0M578.3,141.2L722.1,285.0M581.4,141.2L725.2,285.0M584.5,141.2L728.3,285.0M587.6,141.2L731.4,285.0M590.7,141.2L734.5,285.0M593.8,141.2L737.6,285.0M596.9,141.2L740.7,285.0M600.0,141.2L743.8,285.0M603.1,141.2L746.9,285.0M606.2,141.2L750.0,285.0M609.3,141.2L753.1,285.0M612.4,141.2L756.2,285.0M615.5,141.2L759.3,285.0M618.6,141.2L762.4,285.0M621.7,141.2L765.5,285.0M624.8,141.2L768.6,285.0M627.9,141.2L771.7,285.0M631.0,141.2L774.8,285.0M634.1,141.2L777.9,285.0M637.2,141.2L781.0,285.0M640.3,141.2L784.1,285.0M643.4,141.2L787.2,285.0M646.5,141.2L790.3,285.0M649.6,141.2L793.4,285.0M652.7,141.2L796.5,285.0M655.8,141.2L799.6,285.0M658.9,141.2L802.7,285.0M662.0,141.2L805.8,285.0M665.1,141.2L808.9,285.0M668.2,141.2L812.0,285.0M671.3,141.2L815.1,285.0M674.4,141.2L818.2,285.0M677.5,141.2L821.3,285.0M680.6,141.2L824.4,285.0" stroke="#1a1a1a" stroke-width="0.85" clip-path="url(#c23)"/>
<polygon points="653.4,142.2 663.2,142.2 663.2,160 666,164 669,173.5 671,180 678.7,186 679.2,186 679.2,238.3 678.7,238.3 671,246 669,251 666,260.6 663.2,266 663.2,284 653.4,284" fill="none" stroke="#1a1a1a" stroke-width="0.9"/>
<polygon points="653.5,179.3 668,194.8 658.4,202.5 658.4,222.9 668,229.6 653.5,245.1" fill="#fff" stroke="#1a1a1a" stroke-width="0.8"/>
<line x1="653.5" y1="171" x2="653.5" y2="255.5" stroke="#1a1a1a" stroke-width="1.0" />
<rect x="663.5" y="147.5" width="5.0" height="9.0" fill="none" stroke="#1a1a1a" stroke-width="1.0" rx="2" />
<rect x="663.5" y="269.5" width="5.0" height="10.0" fill="none" stroke="#1a1a1a" stroke-width="1.0" rx="2" />
<rect x="649.5" y="207.5" width="30.0" height="12.0" fill="#fff" stroke="#1a1a1a" stroke-width="1.0" rx="0" />
<rect x="679.5" y="186.5" width="16.0" height="52.0" fill="none" stroke="#1a1a1a" stroke-width="1.0" rx="2" />
<line x1="679" y1="198.5" x2="695" y2="198.5" stroke="#1a1a1a" stroke-width="1.0" />
<line x1="679" y1="226.5" x2="695" y2="226.5" stroke="#1a1a1a" stroke-width="1.0" />
<rect x="695.5" y="195.5" width="15.0" height="34.0" fill="none" stroke="#1a1a1a" stroke-width="1.0" rx="0" />
<rect x="710.5" y="201.5" width="9.0" height="20.0" fill="none" stroke="#1a1a1a" stroke-width="1.0" rx="0" />
<line x1="640" y1="213.5" x2="722" y2="213.5" stroke="#1a1a1a" stroke-width="1.0" />
<line x1="425.5" y1="266" x2="425.5" y2="335" stroke="#1a1a1a" stroke-width="1.0" />
<line x1="475.5" y1="266" x2="475.5" y2="335" stroke="#1a1a1a" stroke-width="1.0" />
<line x1="425" y1="332.5" x2="475.6" y2="332.5" stroke="#1a1a1a" stroke-width="1.0" />
<polygon points="425,332 430,330.7 430,333.3" fill="#1a1a1a" stroke="#1a1a1a" stroke-width="0.3"/>
<polygon points="475.6,332 470.6,330.7 470.6,333.3" fill="#1a1a1a" stroke="#1a1a1a" stroke-width="0.3"/>
<line x1="439.5" y1="270" x2="439.5" y2="320" stroke="#1a1a1a" stroke-width="1.0" />
<line x1="459.5" y1="270" x2="459.5" y2="320" stroke="#1a1a1a" stroke-width="1.0" />
<line x1="439.6" y1="318.5" x2="459" y2="318.5" stroke="#1a1a1a" stroke-width="1.0" />
<polygon points="439.6,318 443.6,316.8 443.6,319.2" fill="#1a1a1a" stroke="#1a1a1a" stroke-width="0.3"/>
<polygon points="459,318 455,316.8 455,319.2" fill="#1a1a1a" stroke="#1a1a1a" stroke-width="0.3"/>
<rect x="443.5" y="275.5" width="12.0" height="26.0" fill="none" stroke="#1a1a1a" stroke-width="1.0" rx="6" />
<line x1="434" y1="289.5" x2="468" y2="289.5" stroke="#1a1a1a" stroke-width="1.0" />
<line x1="448.5" y1="270" x2="448.5" y2="303" stroke="#1a1a1a" stroke-width="1.0" />
<text x="449" y="317" font-family="'Liberation Serif', serif" font-size="12.5" fill="#1a1a1a" text-anchor="middle" >d</text>
<text x="446" y="332" font-family="'Liberation Serif', serif" font-size="12.5" fill="#1a1a1a">d<tspan font-size="8">1</tspan></text>
<text x="461.5" y="288.5" font-family="'Liberation Serif', serif" font-size="12" fill="#1a1a1a" text-anchor="start" >b</text>
<line x1="451.5" y1="342" x2="451.5" y2="364" stroke="#1a1a1a" stroke-width="1.0" />
<polygon points="451,340 449.5,346 452.5,346" fill="#1a1a1a" stroke="#1a1a1a" stroke-width="0.3"/>
<text x="453" y="363.5" font-family="'Liberation Serif', serif" font-size="12" fill="#1a1a1a" text-anchor="start" >A</text>
<line x1="449.5" y1="86" x2="449.5" y2="108" stroke="#1a1a1a" stroke-width="1.0" />
<polygon points="449,110 447.5,104 450.5,104" fill="#1a1a1a" stroke="#1a1a1a" stroke-width="0.3"/>
<text x="454" y="96.5" font-family="'Liberation Serif', serif" font-size="11.5" fill="#1a1a1a" text-anchor="start" >B</text>
<line x1="486" y1="78" x2="449.7" y2="121" stroke="#1a1a1a" stroke-width="0.8" />
<line x1="486" y1="78.5" x2="538" y2="78.5" stroke="#1a1a1a" stroke-width="1.0" />
<text x="488" y="77" font-family="'Liberation Serif', serif" font-size="14" fill="#1a1a1a" text-anchor="start" textLength="50" lengthAdjust="spacing" >M6深20</text>
<line x1="128.5" y1="374" x2="128.5" y2="500" stroke="#1a1a1a" stroke-width="1.0" />
<line x1="719.5" y1="365" x2="719.5" y2="500" stroke="#1a1a1a" stroke-width="1.0" />
<line x1="128.75" y1="383.5" x2="719" y2="383.5" stroke="#1a1a1a" stroke-width="1.0" />
<polygon points="128.75,383 134.75,381.5 134.75,384.5" fill="#1a1a1a" stroke="#1a1a1a" stroke-width="0.3"/>
<polygon points="719,383 713,381.5 713,384.5" fill="#1a1a1a" stroke="#1a1a1a" stroke-width="0.3"/>
<text x="420" y="381" font-family="'Liberation Serif', serif" font-size="12" fill="#1a1a1a" text-anchor="start" >L</text>
<line x1="449.5" y1="392.5" x2="449.5" y2="586" stroke="#1a1a1a" stroke-width="1.0" />
<line x1="449.5" y1="403.5" x2="717.5" y2="403.5" stroke="#1a1a1a" stroke-width="1.0" />
<polygon points="449.5,403 455.5,401.5 455.5,404.5" fill="#1a1a1a" stroke="#1a1a1a" stroke-width="0.3"/>
<polygon points="717.5,403 711.5,401.5 711.5,404.5" fill="#1a1a1a" stroke="#1a1a1a" stroke-width="0.3"/>
<text x="589" y="401" font-family="'Liberation Serif', serif" font-size="12" fill="#1a1a1a">L<tspan font-size="8">1</tspan></text>
<line x1="109.5" y1="420.5" x2="194" y2="420.5" stroke="#1a1a1a" stroke-width="1.0" />
<line x1="109.5" y1="528.5" x2="497" y2="528.5" stroke="#1a1a1a" stroke-width="1.0" />
<line x1="109.5" y1="577.5" x2="450" y2="577.5" stroke="#1a1a1a" stroke-width="1.0" />
<line x1="118.5" y1="420.5" x2="118.5" y2="578" stroke="#1a1a1a" stroke-width="1.0" />
<polygon points="118.75,420.5 117.25,426.5 120.25,426.5" fill="#1a1a1a" stroke="#1a1a1a" stroke-width="0.3"/>
<polygon points="118.75,528.5 117.25,522.5 120.25,522.5" fill="#1a1a1a" stroke="#1a1a1a" stroke-width="0.3"/>
<polygon points="118.75,528.5 117.25,534.5 120.25,534.5" fill="#1a1a1a" stroke="#1a1a1a" stroke-width="0.3"/>
<polygon points="118.75,578 117.25,572 120.25,572" fill="#1a1a1a" stroke="#1a1a1a" stroke-width="0.3"/>
<text transform="translate(116.6,482) rotate(-90) scale(0.8,1)" font-family="'Liberation Sans', sans-serif" font-size="13.5" font-weight="bold" fill="#1a1a1a">M<tspan font-size="9" dx="1" dy="-1">2</tspan></text>
<text transform="translate(116.6,562.5) rotate(-90) scale(0.8,1)" font-family="'Liberation Sans', sans-serif" font-size="13.5" font-weight="bold" fill="#1a1a1a">M<tspan font-size="9" dx="1" dy="-1">1</tspan></text>
<line x1="125" y1="491.5" x2="200" y2="491.5" stroke="#1a1a1a" stroke-width="1.0" />
<line x1="349" y1="491.5" x2="722.5" y2="491.5" stroke="#1a1a1a" stroke-width="1.0" />
<rect x="185.5" y="420.5" width="9.0" height="142.0" fill="#fff" stroke="#1a1a1a" stroke-width="1.0" rx="0" />
<path d="M185,423 Q176,424 176,430 Q177,436 184,438 Q170,450 170,470 L170,515 Q170,530 184,545 Q175,550 179,560 L185,562" fill="none" stroke="#1a1a1a" stroke-width="0.7" />
<rect x="179.5" y="426.5" width="6.0" height="9.0" fill="none" stroke="#1a1a1a" stroke-width="1.0" rx="1" />
<line x1="176" y1="430.5" x2="185" y2="430.5" stroke="#1a1a1a" stroke-width="1.0" />
<rect x="179.5" y="464.5" width="6.0" height="9.0" fill="none" stroke="#1a1a1a" stroke-width="1.0" rx="1" />
<line x1="176" y1="468.5" x2="185" y2="468.5" stroke="#1a1a1a" stroke-width="1.0" />
<rect x="179.5" y="510.5" width="6.0" height="9.0" fill="none" stroke="#1a1a1a" stroke-width="1.0" rx="1" />
<line x1="176" y1="514.5" x2="185" y2="514.5" stroke="#1a1a1a" stroke-width="1.0" />
<rect x="179.5" y="548.5" width="6.0" height="9.0" fill="none" stroke="#1a1a1a" stroke-width="1.0" rx="1" />
<line x1="176" y1="552.5" x2="185" y2="552.5" stroke="#1a1a1a" stroke-width="1.0" />
<rect x="169" y="461" width="3.5" height="61.5" fill="#fff" stroke="#1a1a1a" stroke-width="0.9" rx="0" />
<rect x="154.5" y="464.5" width="15.0" height="52.0" fill="#fff" stroke="#1a1a1a" stroke-width="1.0" rx="0" />
<line x1="154" y1="474.5" x2="169" y2="474.5" stroke="#1a1a1a" stroke-width="1.0" />
<line x1="154" y1="506.5" x2="169" y2="506.5" stroke="#1a1a1a" stroke-width="1.0" />
<rect x="137.5" y="474.5" width="17.0" height="33.0" fill="#fff" stroke="#1a1a1a" stroke-width="1.0" rx="0" />
<rect x="129.5" y="480.5" width="8.0" height="20.0" fill="#fff" stroke="#1a1a1a" stroke-width="1.0" rx="0" />
<line x1="194" y1="425.5" x2="255" y2="425.5" stroke="#1a1a1a" stroke-width="1.0" />
<line x1="194" y1="435.5" x2="250" y2="435.5" stroke="#1a1a1a" stroke-width="1.0" />
<line x1="194" y1="444.5" x2="247.5" y2="444.5" stroke="#1a1a1a" stroke-width="1.0" />
<line x1="194" y1="463.5" x2="265" y2="463.5" stroke="#1a1a1a" stroke-width="1.0" />
<line x1="194" y1="472.5" x2="266.75" y2="472.5" stroke="#1a1a1a" stroke-width="1.0" />
<line x1="194" y1="510.5" x2="280.75" y2="510.5" stroke="#1a1a1a" stroke-width="1.0" />
<line x1="194" y1="519.5" x2="282.5" y2="519.5" stroke="#1a1a1a" stroke-width="1.0" />
<line x1="177" y1="515.5" x2="286" y2="515.5" stroke="#1a1a1a" stroke-width="1.0" />
<line x1="194" y1="430.5" x2="390" y2="430.5" stroke="#aaa" stroke-width="1.0" />
<line x1="177" y1="467.5" x2="290" y2="467.5" stroke="#aaa" stroke-width="1.0" stroke-dasharray="6,3"/>
<line x1="200" y1="490.5" x2="349" y2="490.5" stroke="#bbb" stroke-width="1.0" />
<line x1="194" y1="538.5" x2="289" y2="538.5" stroke="#1a1a1a" stroke-width="1.0" />
<line x1="194" y1="548.5" x2="317.5" y2="548.5" stroke="#1a1a1a" stroke-width="1.0" />
<line x1="194" y1="552.5" x2="317.5" y2="552.5" stroke="#1a1a1a" stroke-width="1.0" />
<line x1="194" y1="557.5" x2="317.5" y2="557.5" stroke="#1a1a1a" stroke-width="1.0" />
<path d="M317.5,548 Q320,553 317.5,557.5" fill="none" stroke="#1a1a1a" stroke-width="0.8" />
<path d="M255,425.5 Q252,435 247.6,445.6 Q254,455 260,463.6 Q266,470 267,477 Q268,488 269,495 Q276,505 282.7,513 Q286,522 287,531 L289.5,535.6" fill="none" stroke="#1a1a1a" stroke-width="0.8" />
<clipPath id="c24"><rect x="247.5" y="445.5" width="141.0" height="4.0" rx="0"/></clipPath>
<rect x="247.5" y="445.5" width="141.0" height="4.0" rx="0" fill="#fff" stroke="none"/>
<path d="M237.7,450.5L243.7,444.5M240.8,450.5L246.8,444.5M243.9,450.5L249.9,444.5M247.0,450.5L253.0,444.5M250.1,450.5L256.1,444.5M253.2,450.5L259.2,444.5M256.3,450.5L262.3,444.5M259.4,450.5L265.4,444.5M262.5,450.5L268.5,444.5M265.6,450.5L271.6,444.5M268.7,450.5L274.7,444.5M271.8,450.5L277.8,444.5M274.9,450.5L280.9,444.5M278.0,450.5L284.0,444.5M281.1,450.5L287.1,444.5M284.2,450.5L290.2,444.5M287.3,450.5L293.3,444.5M290.4,450.5L296.4,444.5M293.5,450.5L299.5,444.5M296.6,450.5L302.6,444.5M299.7,450.5L305.7,444.5M302.8,450.5L308.8,444.5M305.9,450.5L311.9,444.5M309.0,450.5L315.0,444.5M312.1,450.5L318.1,444.5M315.2,450.5L321.2,444.5M318.3,450.5L324.3,444.5M321.4,450.5L327.4,444.5M324.5,450.5L330.5,444.5M327.6,450.5L333.6,444.5M330.7,450.5L336.7,444.5M333.8,450.5L339.8,444.5M336.9,450.5L342.9,444.5M340.0,450.5L346.0,444.5M343.1,450.5L349.1,444.5M346.2,450.5L352.2,444.5M349.3,450.5L355.3,444.5M352.4,450.5L358.4,444.5M355.5,450.5L361.5,444.5M358.6,450.5L364.6,444.5M361.7,450.5L367.7,444.5M364.8,450.5L370.8,444.5M367.9,450.5L373.9,444.5M371.0,450.5L377.0,444.5M374.1,450.5L380.1,444.5M377.2,450.5L383.2,444.5M380.3,450.5L386.3,444.5M383.4,450.5L389.4,444.5M386.5,450.5L392.5,444.5M389.6,450.5L395.6,444.5" stroke="#1a1a1a" stroke-width="0.85" clip-path="url(#c24)"/>
<rect x="247.5" y="445.5" width="141.0" height="4.0" rx="0" fill="none" stroke="#1a1a1a" stroke-width="1.0"/>
<circle cx="296.5" cy="454.25" r="2.7" fill="none" stroke="#1a1a1a" stroke-width="0.9"/>
<circle cx="297.7" cy="518" r="2.7" fill="none" stroke="#1a1a1a" stroke-width="0.9"/>
<circle cx="299.2" cy="464" r="2.7" fill="none" stroke="#1a1a1a" stroke-width="0.9"/>
<circle cx="299.2" cy="527.75" r="2.7" fill="none" stroke="#1a1a1a" stroke-width="0.9"/>
<line x1="296.5" y1="464" x2="296.5" y2="527.75" stroke="#1a1a1a" stroke-width="1.0" />
<line x1="301.5" y1="464" x2="301.5" y2="527.75" stroke="#1a1a1a" stroke-width="1.0" />
<line x1="293.8" y1="454.25" x2="295.0" y2="518" stroke="#1a1a1a" stroke-width="0.8" />
<line x1="299.2" y1="454.25" x2="300.4" y2="518" stroke="#1a1a1a" stroke-width="0.8" />
<circle cx="307.5" cy="454.25" r="2.7" fill="none" stroke="#1a1a1a" stroke-width="0.9"/>
<circle cx="308.7" cy="518" r="2.7" fill="none" stroke="#1a1a1a" stroke-width="0.9"/>
<circle cx="310.2" cy="464" r="2.7" fill="none" stroke="#1a1a1a" stroke-width="0.9"/>
<circle cx="310.2" cy="527.75" r="2.7" fill="none" stroke="#1a1a1a" stroke-width="0.9"/>
<line x1="307.5" y1="464" x2="307.5" y2="527.75" stroke="#1a1a1a" stroke-width="1.0" />
<line x1="312.5" y1="464" x2="312.5" y2="527.75" stroke="#1a1a1a" stroke-width="1.0" />
<line x1="304.8" y1="454.25" x2="306.0" y2="518" stroke="#1a1a1a" stroke-width="0.8" />
<line x1="310.2" y1="454.25" x2="311.4" y2="518" stroke="#1a1a1a" stroke-width="0.8" />
<circle cx="318.7" cy="454.25" r="2.7" fill="none" stroke="#1a1a1a" stroke-width="0.9"/>
<circle cx="319.9" cy="518" r="2.7" fill="none" stroke="#1a1a1a" stroke-width="0.9"/>
<circle cx="321.4" cy="464" r="2.7" fill="none" stroke="#1a1a1a" stroke-width="0.9"/>
<circle cx="321.4" cy="527.75" r="2.7" fill="none" stroke="#1a1a1a" stroke-width="0.9"/>
<line x1="318.5" y1="464" x2="318.5" y2="527.75" stroke="#1a1a1a" stroke-width="1.0" />
<line x1="324.5" y1="464" x2="324.5" y2="527.75" stroke="#1a1a1a" stroke-width="1.0" />
<line x1="316.0" y1="454.25" x2="317.2" y2="518" stroke="#1a1a1a" stroke-width="0.8" />
<line x1="321.4" y1="454.25" x2="322.59999999999997" y2="518" stroke="#1a1a1a" stroke-width="0.8" />
<circle cx="329.5" cy="454.25" r="2.7" fill="none" stroke="#1a1a1a" stroke-width="0.9"/>
<circle cx="330.7" cy="518" r="2.7" fill="none" stroke="#1a1a1a" stroke-width="0.9"/>
<circle cx="332.2" cy="464" r="2.7" fill="none" stroke="#1a1a1a" stroke-width="0.9"/>
<circle cx="332.2" cy="527.75" r="2.7" fill="none" stroke="#1a1a1a" stroke-width="0.9"/>
<line x1="329.5" y1="464" x2="329.5" y2="527.75" stroke="#1a1a1a" stroke-width="1.0" />
<line x1="334.5" y1="464" x2="334.5" y2="527.75" stroke="#1a1a1a" stroke-width="1.0" />
<line x1="326.8" y1="454.25" x2="328.0" y2="518" stroke="#1a1a1a" stroke-width="0.8" />
<line x1="332.2" y1="454.25" x2="333.4" y2="518" stroke="#1a1a1a" stroke-width="0.8" />
<circle cx="340.75" cy="454.25" r="2.7" fill="none" stroke="#1a1a1a" stroke-width="0.9"/>
<circle cx="341.95" cy="518" r="2.7" fill="none" stroke="#1a1a1a" stroke-width="0.9"/>
<circle cx="343.45" cy="464" r="2.7" fill="none" stroke="#1a1a1a" stroke-width="0.9"/>
<circle cx="343.45" cy="527.75" r="2.7" fill="none" stroke="#1a1a1a" stroke-width="0.9"/>
<line x1="340.5" y1="464" x2="340.5" y2="527.75" stroke="#1a1a1a" stroke-width="1.0" />
<line x1="346.5" y1="464" x2="346.5" y2="527.75" stroke="#1a1a1a" stroke-width="1.0" />
<line x1="338.05" y1="454.25" x2="339.25" y2="518" stroke="#1a1a1a" stroke-width="0.8" />
<line x1="343.45" y1="454.25" x2="344.65" y2="518" stroke="#1a1a1a" stroke-width="0.8" />
<circle cx="351.7" cy="454.25" r="2.7" fill="none" stroke="#1a1a1a" stroke-width="0.9"/>
<circle cx="352.9" cy="518" r="2.7" fill="none" stroke="#1a1a1a" stroke-width="0.9"/>
<line x1="349.0" y1="454.25" x2="350.2" y2="518" stroke="#1a1a1a" stroke-width="0.8" />
<line x1="354.4" y1="454.25" x2="355.59999999999997" y2="518" stroke="#1a1a1a" stroke-width="0.8" />
<line x1="290" y1="454.5" x2="354" y2="454.5" stroke="#1a1a1a" stroke-width="1.0" />
<line x1="290" y1="464.5" x2="354" y2="464.5" stroke="#1a1a1a" stroke-width="1.0" />
<line x1="290" y1="518.5" x2="354" y2="518.5" stroke="#1a1a1a" stroke-width="1.0" />
<line x1="290" y1="530.5" x2="354" y2="530.5" stroke="#1a1a1a" stroke-width="1.0" />
<clipPath id="c25"><rect x="289.5" y="534.5" width="100.0" height="4.0" rx="0"/></clipPath>
<rect x="289.5" y="534.5" width="100.0" height="4.0" rx="0" fill="#fff" stroke="none"/>
<path d="M282.0,539.5L288.0,533.5M285.1,539.5L291.1,533.5M288.2,539.5L294.2,533.5M291.3,539.5L297.3,533.5M294.4,539.5L300.4,533.5M297.5,539.5L303.5,533.5M300.6,539.5L306.6,533.5M303.7,539.5L309.7,533.5M306.8,539.5L312.8,533.5M309.9,539.5L315.9,533.5M313.0,539.5L319.0,533.5M316.1,539.5L322.1,533.5M319.2,539.5L325.2,533.5M322.3,539.5L328.3,533.5M325.4,539.5L331.4,533.5M328.5,539.5L334.5,533.5M331.6,539.5L337.6,533.5M334.7,539.5L340.7,533.5M337.8,539.5L343.8,533.5M340.9,539.5L346.9,533.5M344.0,539.5L350.0,533.5M347.1,539.5L353.1,533.5M350.2,539.5L356.2,533.5M353.3,539.5L359.3,533.5M356.4,539.5L362.4,533.5M359.5,539.5L365.5,533.5M362.6,539.5L368.6,533.5M365.7,539.5L371.7,533.5M368.8,539.5L374.8,533.5M371.9,539.5L377.9,533.5M375.0,539.5L381.0,533.5M378.1,539.5L384.1,533.5M381.2,539.5L387.2,533.5M384.3,539.5L390.3,533.5M387.4,539.5L393.4,533.5M390.5,539.5L396.5,533.5" stroke="#1a1a1a" stroke-width="0.85" clip-path="url(#c25)"/>
<rect x="289.5" y="534.5" width="100.0" height="4.0" rx="0" fill="none" stroke="#1a1a1a" stroke-width="1.0"/>
<clipPath id="c26"><rect x="354.5" y="449.5" width="18.0" height="84.0" rx="0"/></clipPath>
<rect x="354.5" y="449.5" width="18.0" height="84.0" rx="0" fill="#fff" stroke="none"/>
<path d="M265.6,448.5L351.6,534.5M268.7,448.5L354.7,534.5M271.8,448.5L357.8,534.5M274.9,448.5L360.9,534.5M278.0,448.5L364.0,534.5M281.1,448.5L367.1,534.5M284.2,448.5L370.2,534.5M287.3,448.5L373.3,534.5M290.4,448.5L376.4,534.5M293.5,448.5L379.5,534.5M296.6,448.5L382.6,534.5M299.7,448.5L385.7,534.5M302.8,448.5L388.8,534.5M305.9,448.5L391.9,534.5M309.0,448.5L395.0,534.5M312.1,448.5L398.1,534.5M315.2,448.5L401.2,534.5M318.3,448.5L404.3,534.5M321.4,448.5L407.4,534.5M324.5,448.5L410.5,534.5M327.6,448.5L413.6,534.5M330.7,448.5L416.7,534.5M333.8,448.5L419.8,534.5M336.9,448.5L422.9,534.5M340.0,448.5L426.0,534.5M343.1,448.5L429.1,534.5M346.2,448.5L432.2,534.5M349.3,448.5L435.3,534.5M352.4,448.5L438.4,534.5M355.5,448.5L441.5,534.5M358.6,448.5L444.6,534.5M361.7,448.5L447.7,534.5M364.8,448.5L450.8,534.5M367.9,448.5L453.9,534.5M371.0,448.5L457.0,534.5M374.1,448.5L460.1,534.5" stroke="#1a1a1a" stroke-width="0.85" clip-path="url(#c26)"/>
<rect x="354.5" y="449.5" width="18.0" height="84.0" rx="0" fill="none" stroke="#1a1a1a" stroke-width="1.0"/>
<rect x="354.3" y="471.5" width="5.2" height="6.8" fill="#fff" stroke="#1a1a1a" stroke-width="0.9"/>
<rect x="368.5" y="471.5" width="3.8" height="6.8" fill="#fff" stroke="#1a1a1a" stroke-width="0.9"/>
<rect x="354.3" y="504.5" width="5.2" height="6.8" fill="#fff" stroke="#1a1a1a" stroke-width="0.9"/>
<rect x="368.5" y="504.5" width="3.8" height="6.8" fill="#fff" stroke="#1a1a1a" stroke-width="0.9"/>
<path d="M350.5,485.75 L371.5,485.75 L371.5,497 L350.5,497 Q348.25,497 348.25,494 L348.25,488.75 Q348.25,485.75 350.5,485.75 Z" fill="#fff" stroke="#1a1a1a" stroke-width="1.0" />
<rect x="367.5" y="485.75" width="4" height="11.25" fill="#888" stroke="none"/>
<rect x="372.5" y="449.5" width="10.0" height="84.0" fill="none" stroke="#1a1a1a" stroke-width="1.0" rx="0" />
<line x1="372.4" y1="482.5" x2="619" y2="482.5" stroke="#1a1a1a" stroke-width="1.0" />
<line x1="372.4" y1="501.5" x2="619" y2="501.5" stroke="#1a1a1a" stroke-width="1.0" />
<clipPath id="c27"><polygon points="370,445 390.4,445 390.4,410.8 408.4,410.8 408.4,433.75 412,440 419.6,446 480.4,446 487,440 490.5,433.75 490.5,410.8 507.4,410.8 507.4,445 530,445 530,449.6 507.4,449.6 490,450.5 480,451.3 420,451.3 410,450.5 390.4,449.6 370,449.6"/></clipPath>
<polygon points="370,445 390.4,445 390.4,410.8 408.4,410.8 408.4,433.75 412,440 419.6,446 480.4,446 487,440 490.5,433.75 490.5,410.8 507.4,410.8 507.4,445 530,445 530,449.6 507.4,449.6 490,450.5 480,451.3 420,451.3 410,450.5 390.4,449.6 370,449.6" fill="#fff" stroke="none"/>
<path d="M325.8,452.3L368.3,409.8M328.9,452.3L371.4,409.8M332.0,452.3L374.5,409.8M335.1,452.3L377.6,409.8M338.2,452.3L380.7,409.8M341.3,452.3L383.8,409.8M344.4,452.3L386.9,409.8M347.5,452.3L390.0,409.8M350.6,452.3L393.1,409.8M353.7,452.3L396.2,409.8M356.8,452.3L399.3,409.8M359.9,452.3L402.4,409.8M363.0,452.3L405.5,409.8M366.1,452.3L408.6,409.8M369.2,452.3L411.7,409.8M372.3,452.3L414.8,409.8M375.4,452.3L417.9,409.8M378.5,452.3L421.0,409.8M381.6,452.3L424.1,409.8M384.7,452.3L427.2,409.8M387.8,452.3L430.3,409.8M390.9,452.3L433.4,409.8M394.0,452.3L436.5,409.8M397.1,452.3L439.6,409.8M400.2,452.3L442.7,409.8M403.3,452.3L445.8,409.8M406.4,452.3L448.9,409.8M409.5,452.3L452.0,409.8M412.6,452.3L455.1,409.8M415.7,452.3L458.2,409.8M418.8,452.3L461.3,409.8M421.9,452.3L464.4,409.8M425.0,452.3L467.5,409.8M428.1,452.3L470.6,409.8M431.2,452.3L473.7,409.8M434.3,452.3L476.8,409.8M437.4,452.3L479.9,409.8M440.5,452.3L483.0,409.8M443.6,452.3L486.1,409.8M446.7,452.3L489.2,409.8M449.8,452.3L492.3,409.8M452.9,452.3L495.4,409.8M456.0,452.3L498.5,409.8M459.1,452.3L501.6,409.8M462.2,452.3L504.7,409.8M465.3,452.3L507.8,409.8M468.4,452.3L510.9,409.8M471.5,452.3L514.0,409.8M474.6,452.3L517.1,409.8M477.7,452.3L520.2,409.8M480.8,452.3L523.3,409.8M483.9,452.3L526.4,409.8M487.0,452.3L529.5,409.8M490.1,452.3L532.6,409.8M493.2,452.3L535.7,409.8M496.3,452.3L538.8,409.8M499.4,452.3L541.9,409.8M502.5,452.3L545.0,409.8M505.6,452.3L548.1,409.8M508.7,452.3L551.2,409.8M511.8,452.3L554.3,409.8M514.9,452.3L557.4,409.8M518.0,452.3L560.5,409.8M521.1,452.3L563.6,409.8M524.2,452.3L566.7,409.8M527.3,452.3L569.8,409.8M530.4,452.3L572.9,409.8M533.5,452.3L576.0,409.8" stroke="#1a1a1a" stroke-width="0.85" clip-path="url(#c27)"/>
<polygon points="370,445 390.4,445 390.4,410.8 408.4,410.8 408.4,433.75 412,440 419.6,446 480.4,446 487,440 490.5,433.75 490.5,410.8 507.4,410.8 507.4,445 530,445 530,449.6 507.4,449.6 490,450.5 480,451.3 420,451.3 410,450.5 390.4,449.6 370,449.6" fill="none" stroke="#1a1a1a" stroke-width="0.9"/>
<rect x="397.5" y="412.5" width="10.0" height="32.0" fill="#fff" stroke="#1a1a1a" stroke-width="1.0" rx="0" />
<line x1="398.5" y1="414" x2="398.5" y2="442" stroke="#1a1a1a" stroke-width="1.0" />
<line x1="405.5" y1="414" x2="405.5" y2="442" stroke="#1a1a1a" stroke-width="1.0" />
<line x1="402.5" y1="408" x2="402.5" y2="446" stroke="#1a1a1a" stroke-width="1.0" />
<rect x="495.5" y="412.5" width="10.0" height="32.0" fill="#fff" stroke="#1a1a1a" stroke-width="1.0" rx="0" />
<line x1="496.5" y1="414" x2="496.5" y2="442" stroke="#1a1a1a" stroke-width="1.0" />
<line x1="503.5" y1="414" x2="503.5" y2="442" stroke="#1a1a1a" stroke-width="1.0" />
<line x1="500.5" y1="408" x2="500.5" y2="446" stroke="#1a1a1a" stroke-width="1.0" />
<line x1="360" y1="429.5" x2="412" y2="429.5" stroke="#1a1a1a" stroke-width="1.0" />
<line x1="486" y1="429.5" x2="680" y2="429.5" stroke="#1a1a1a" stroke-width="1.0" />
<rect x="429.5" y="441.5" width="6.0" height="5.0" fill="#fff" stroke="#1a1a1a" stroke-width="1.0" rx="0" />
<line x1="432.5" y1="438" x2="432.5" y2="453" stroke="#1a1a1a" stroke-width="1.0" />
<rect x="462.5" y="441.5" width="6.0" height="5.0" fill="#fff" stroke="#1a1a1a" stroke-width="1.0" rx="0" />
<line x1="465.5" y1="438" x2="465.5" y2="453" stroke="#1a1a1a" stroke-width="1.0" />
<clipPath id="c28"><polygon points="382.5,449.6 397.0,449.6 397.0,478.75 392.5,478.75 391.5,467 388.0,467 387.0,478.75 382.5,478.75"/></clipPath>
<polygon points="382.5,449.6 397.0,449.6 397.0,478.75 392.5,478.75 391.5,467 388.0,467 387.0,478.75 382.5,478.75" fill="#fff" stroke="none"/>
<path d="M349.4,448.6L380.6,479.8M352.5,448.6L383.6,479.8M355.6,448.6L386.8,479.8M358.7,448.6L389.8,479.8M361.8,448.6L392.9,479.8M364.9,448.6L396.0,479.8M368.0,448.6L399.1,479.8M371.1,448.6L402.2,479.8M374.2,448.6L405.3,479.8M377.3,448.6L408.4,479.8M380.4,448.6L411.5,479.8M383.5,448.6L414.6,479.8M386.6,448.6L417.7,479.8M389.7,448.6L420.8,479.8M392.8,448.6L423.9,479.8M395.9,448.6L427.0,479.8M399.0,448.6L430.1,479.8" stroke="#1a1a1a" stroke-width="0.85" clip-path="url(#c28)"/>
<polygon points="382.5,449.6 397.0,449.6 397.0,478.75 392.5,478.75 391.5,467 388.0,467 387.0,478.75 382.5,478.75" fill="none" stroke="#1a1a1a" stroke-width="0.8"/>
<rect x="384.5" y="456.5" width="11.0" height="9.0" fill="#fff" stroke="#1a1a1a" stroke-width="1.0" rx="2" />
<clipPath id="c29"><polygon points="382.5,504.6 387.0,504.6 388.0,516 391.5,516 392.5,504.6 397.0,504.6 397.0,532.75 382.5,532.75"/></clipPath>
<polygon points="382.5,504.6 387.0,504.6 388.0,516 391.5,516 392.5,504.6 397.0,504.6 397.0,532.75 382.5,532.75" fill="#fff" stroke="none"/>
<path d="M348.6,503.6L378.8,533.8M351.7,503.6L381.9,533.8M354.8,503.6L384.9,533.8M357.9,503.6L388.0,533.8M361.0,503.6L391.1,533.8M364.1,503.6L394.2,533.8M367.2,503.6L397.3,533.8M370.3,503.6L400.4,533.8M373.4,503.6L403.5,533.8M376.5,503.6L406.6,533.8M379.6,503.6L409.7,533.8M382.7,503.6L412.8,533.8M385.8,503.6L415.9,533.8M388.9,503.6L419.0,533.8M392.0,503.6L422.1,533.8M395.1,503.6L425.2,533.8M398.2,503.6L428.3,533.8" stroke="#1a1a1a" stroke-width="0.85" clip-path="url(#c29)"/>
<polygon points="382.5,504.6 387.0,504.6 388.0,516 391.5,516 392.5,504.6 397.0,504.6 397.0,532.75 382.5,532.75" fill="none" stroke="#1a1a1a" stroke-width="0.8"/>
<rect x="384.5" y="518.5" width="11.0" height="8.0" fill="#fff" stroke="#1a1a1a" stroke-width="1.0" rx="2" />
<clipPath id="c30"><polygon points="501.75,449.6 516.25,449.6 516.25,478.75 511.75,478.75 510.75,467 507.25,467 506.25,478.75 501.75,478.75"/></clipPath>
<polygon points="501.75,449.6 516.25,449.6 516.25,478.75 511.75,478.75 510.75,467 507.25,467 506.25,478.75 501.75,478.75" fill="#fff" stroke="none"/>
<path d="M467.2,448.6L498.4,479.8M470.3,448.6L501.4,479.8M473.4,448.6L504.6,479.8M476.5,448.6L507.6,479.8M479.6,448.6L510.8,479.8M482.7,448.6L513.9,479.8M485.8,448.6L517.0,479.8M488.9,448.6L520.0,479.8M492.0,448.6L523.1,479.8M495.1,448.6L526.2,479.8M498.2,448.6L529.4,479.8M501.3,448.6L532.5,479.8M504.4,448.6L535.6,479.8M507.5,448.6L538.6,479.8M510.6,448.6L541.8,479.8M513.7,448.6L544.9,479.8M516.8,448.6L548.0,479.8M519.9,448.6L551.0,479.8" stroke="#1a1a1a" stroke-width="0.85" clip-path="url(#c30)"/>
<polygon points="501.75,449.6 516.25,449.6 516.25,478.75 511.75,478.75 510.75,467 507.25,467 506.25,478.75 501.75,478.75" fill="none" stroke="#1a1a1a" stroke-width="0.8"/>
<rect x="503.5" y="456.5" width="11.0" height="9.0" fill="#fff" stroke="#1a1a1a" stroke-width="1.0" rx="2" />
<clipPath id="c31"><polygon points="501.75,504.6 506.25,504.6 507.25,516 510.75,516 511.75,504.6 516.25,504.6 516.25,532.75 501.75,532.75"/></clipPath>
<polygon points="501.75,504.6 506.25,504.6 507.25,516 510.75,516 511.75,504.6 516.25,504.6 516.25,532.75 501.75,532.75" fill="#fff" stroke="none"/>
<path d="M469.5,503.6L499.6,533.8M472.6,503.6L502.8,533.8M475.7,503.6L505.9,533.8M478.8,503.6L508.9,533.8M481.9,503.6L512.0,533.8M485.0,503.6L515.1,533.8M488.1,503.6L518.2,533.8M491.2,503.6L521.4,533.8M494.3,503.6L524.5,533.8M497.4,503.6L527.5,533.8M500.5,503.6L530.6,533.8M503.6,503.6L533.8,533.8M506.7,503.6L536.9,533.8M509.8,503.6L540.0,533.8M512.9,503.6L543.0,533.8M516.0,503.6L546.1,533.8M519.1,503.6L549.2,533.8" stroke="#1a1a1a" stroke-width="0.85" clip-path="url(#c31)"/>
<polygon points="501.75,504.6 506.25,504.6 507.25,516 510.75,516 511.75,504.6 516.25,504.6 516.25,532.75 501.75,532.75" fill="none" stroke="#1a1a1a" stroke-width="0.8"/>
<rect x="503.5" y="518.5" width="11.0" height="8.0" fill="#fff" stroke="#1a1a1a" stroke-width="1.0" rx="2" />
<clipPath id="c32"><rect x="378" y="478.75" width="31.5" height="3.3" rx="0"/></clipPath>
<rect x="378" y="478.75" width="31.5" height="3.3" rx="0" fill="#fff" stroke="none"/>
<path d="M369.4,483.1L374.8,477.8M372.6,483.1L377.9,477.8M375.7,483.1L381.0,477.8M378.8,483.1L384.1,477.8M381.9,483.1L387.2,477.8M385.0,483.1L390.3,477.8M388.1,483.1L393.4,477.8M391.2,483.1L396.5,477.8M394.3,483.1L399.6,477.8M397.4,483.1L402.7,477.8M400.5,483.1L405.8,477.8M403.6,483.1L408.9,477.8M406.7,483.1L412.0,477.8M409.8,483.1L415.1,477.8M412.9,483.1L418.2,477.8" stroke="#1a1a1a" stroke-width="0.85" clip-path="url(#c32)"/>
<rect x="378" y="478.75" width="31.5" height="3.3" rx="0" fill="none" stroke="#1a1a1a" stroke-width="0.7"/>
<clipPath id="c33"><rect x="378" y="501.25" width="31.5" height="3.3" rx="0"/></clipPath>
<rect x="378" y="501.25" width="31.5" height="3.3" rx="0" fill="#fff" stroke="none"/>
<path d="M368.7,505.6L374.0,500.2M371.8,505.6L377.1,500.2M374.9,505.6L380.2,500.2M378.0,505.6L383.3,500.2M381.1,505.6L386.4,500.2M384.2,505.6L389.5,500.2M387.3,505.6L392.6,500.2M390.4,505.6L395.7,500.2M393.5,505.6L398.8,500.2M396.6,505.6L401.9,500.2M399.7,505.6L405.0,500.2M402.8,505.6L408.1,500.2M405.9,505.6L411.2,500.2M409.0,505.6L414.3,500.2M412.1,505.6L417.4,500.2" stroke="#1a1a1a" stroke-width="0.85" clip-path="url(#c33)"/>
<rect x="378" y="501.25" width="31.5" height="3.3" rx="0" fill="none" stroke="#1a1a1a" stroke-width="0.7"/>
<clipPath id="c34"><rect x="489.4" y="478.75" width="31.6" height="3.3" rx="0"/></clipPath>
<rect x="489.4" y="478.75" width="31.6" height="3.3" rx="0" fill="#fff" stroke="none"/>
<path d="M481.1,483.1L486.4,477.8M484.2,483.1L489.5,477.8M487.3,483.1L492.6,477.8M490.4,483.1L495.7,477.8M493.5,483.1L498.8,477.8M496.6,483.1L501.9,477.8M499.7,483.1L505.0,477.8M502.8,483.1L508.1,477.8M505.9,483.1L511.2,477.8M509.0,483.1L514.3,477.8M512.1,483.1L517.4,477.8M515.2,483.1L520.5,477.8M518.3,483.1L523.6,477.8M521.4,483.1L526.7,477.8M524.5,483.1L529.8,477.8" stroke="#1a1a1a" stroke-width="0.85" clip-path="url(#c34)"/>
<rect x="489.4" y="478.75" width="31.6" height="3.3" rx="0" fill="none" stroke="#1a1a1a" stroke-width="0.7"/>
<clipPath id="c35"><rect x="489.4" y="501.25" width="31.6" height="3.3" rx="0"/></clipPath>
<rect x="489.4" y="501.25" width="31.6" height="3.3" rx="0" fill="#fff" stroke="none"/>
<path d="M480.3,505.6L485.6,500.2M483.4,505.6L488.7,500.2M486.5,505.6L491.8,500.2M489.6,505.6L494.9,500.2M492.7,505.6L498.0,500.2M495.8,505.6L501.1,500.2M498.9,505.6L504.2,500.2M502.0,505.6L507.3,500.2M505.1,505.6L510.4,500.2M508.2,505.6L513.5,500.2M511.3,505.6L516.6,500.2M514.4,505.6L519.7,500.2M517.5,505.6L522.8,500.2M520.6,505.6L525.9,500.2M523.7,505.6L529.0,500.2" stroke="#1a1a1a" stroke-width="0.85" clip-path="url(#c35)"/>
<rect x="489.4" y="501.25" width="31.6" height="3.3" rx="0" fill="none" stroke="#1a1a1a" stroke-width="0.7"/>
<line x1="372.5" y1="449.6" x2="372.5" y2="532.75" stroke="#1a1a1a" stroke-width="1.0" />
<path d="M412.5,541 A37,37 0 0 0 486.5,541" fill="none" stroke="#1a1a1a" stroke-width="0.9" />
<clipPath id="c36"><polygon points="370,532.75 390.4,532.75 400,536 410.6,540.6 425,545.5 437,548.3 450,549.2 463,548.3 475,545.5 488.25,540.6 498,536 507.4,532.75 530,532.75 530,537.25 507.4,537.25 507.4,571 489.4,571 489.4,546 476,549.8 463,552.3 450,553.2 437,552.3 424,549.8 408.4,546 408.4,571 390.4,571 390.4,537.25 370,537.25"/></clipPath>
<polygon points="370,532.75 390.4,532.75 400,536 410.6,540.6 425,545.5 437,548.3 450,549.2 463,548.3 475,545.5 488.25,540.6 498,536 507.4,532.75 530,532.75 530,537.25 507.4,537.25 507.4,571 489.4,571 489.4,546 476,549.8 463,552.3 450,553.2 437,552.3 424,549.8 408.4,546 408.4,571 390.4,571 390.4,537.25 370,537.25" fill="#fff" stroke="none"/>
<path d="M327.1,531.8L367.4,572.0M330.2,531.8L370.5,572.0M333.4,531.8L373.6,572.0M336.4,531.8L376.7,572.0M339.5,531.8L379.8,572.0M342.6,531.8L382.9,572.0M345.8,531.8L386.0,572.0M348.8,531.8L389.1,572.0M351.9,531.8L392.2,572.0M355.0,531.8L395.3,572.0M358.1,531.8L398.4,572.0M361.2,531.8L401.5,572.0M364.3,531.8L404.6,572.0M367.4,531.8L407.7,572.0M370.5,531.8L410.8,572.0M373.6,531.8L413.9,572.0M376.7,531.8L417.0,572.0M379.8,531.8L420.1,572.0M382.9,531.8L423.2,572.0M386.0,531.8L426.3,572.0M389.1,531.8L429.4,572.0M392.2,531.8L432.5,572.0M395.3,531.8L435.6,572.0M398.4,531.8L438.7,572.0M401.5,531.8L441.8,572.0M404.6,531.8L444.9,572.0M407.7,531.8L448.0,572.0M410.8,531.8L451.1,572.0M413.9,531.8L454.2,572.0M417.0,531.8L457.3,572.0M420.1,531.8L460.4,572.0M423.2,531.8L463.5,572.0M426.3,531.8L466.6,572.0M429.4,531.8L469.7,572.0M432.5,531.8L472.8,572.0M435.6,531.8L475.9,572.0M438.7,531.8L479.0,572.0M441.8,531.8L482.1,572.0M444.9,531.8L485.2,572.0M448.0,531.8L488.3,572.0M451.1,531.8L491.4,572.0M454.2,531.8L494.5,572.0M457.3,531.8L497.6,572.0M460.4,531.8L500.7,572.0M463.5,531.8L503.8,572.0M466.6,531.8L506.9,572.0M469.7,531.8L510.0,572.0M472.8,531.8L513.1,572.0M475.9,531.8L516.2,572.0M479.0,531.8L519.3,572.0M482.1,531.8L522.4,572.0M485.2,531.8L525.5,572.0M488.3,531.8L528.6,572.0M491.4,531.8L531.7,572.0M494.5,531.8L534.8,572.0M497.6,531.8L537.9,572.0M500.7,531.8L541.0,572.0M503.8,531.8L544.1,572.0M506.9,531.8L547.2,572.0M510.0,531.8L550.3,572.0M513.1,531.8L553.4,572.0M516.2,531.8L556.5,572.0M519.3,531.8L559.6,572.0M522.4,531.8L562.7,572.0M525.5,531.8L565.8,572.0M528.6,531.8L568.9,572.0M531.7,531.8L572.0,572.0" stroke="#1a1a1a" stroke-width="0.85" clip-path="url(#c36)"/>
<polygon points="370,532.75 390.4,532.75 400,536 410.6,540.6 425,545.5 437,548.3 450,549.2 463,548.3 475,545.5 488.25,540.6 498,536 507.4,532.75 530,532.75 530,537.25 507.4,537.25 507.4,571 489.4,571 489.4,546 476,549.8 463,552.3 450,553.2 437,552.3 424,549.8 408.4,546 408.4,571 390.4,571 390.4,537.25 370,537.25" fill="none" stroke="#1a1a1a" stroke-width="0.9"/>
<path d="M437.75,513 L463,483 Q466,480 469,481.5 L471,483.5" fill="none" stroke="#1a1a1a" stroke-width="1.2" />
<path d="M478.5,489.5 Q482.5,488.5 483.5,492.5 L482.5,506 Q481,514 484,522 Q486,530 486,540" fill="none" stroke="#1a1a1a" stroke-width="1.2" />
<circle cx="450" cy="527.8" r="15.75" fill="none" stroke="#1a1a1a" stroke-width="1.1"/>
<circle cx="450" cy="527.8" r="12.4" fill="none" stroke="#1a1a1a" stroke-width="1.1"/>
<circle cx="470.1" cy="490.75" r="4.4" fill="none" stroke="#1a1a1a" stroke-width="1.0"/>
<path d="M460.5,492.5 L457.9,506.5 Q458,511 462.25,510.5 Q465,510 465.75,508 L475.4,494.25" fill="none" stroke="#1a1a1a" stroke-width="1.0" />
<circle cx="443" cy="520" r="1.3" fill="none" stroke="#1a1a1a" stroke-width="0.6"/>
<path d="M423.75,499.5 Q416,505 413.25,515.25 Q418,522 418.5,527.5 Q414,531 414,534.5 Q412,540 412.5,541" fill="none" stroke="#1a1a1a" stroke-width="0.8" />
<line x1="434.25" y1="553" x2="474.75" y2="483.25" stroke="#1a1a1a" stroke-width="0.7" />
<rect x="429.5" y="549.5" width="6.0" height="5.0" fill="#fff" stroke="#1a1a1a" stroke-width="1.0" rx="0" />
<circle cx="432" cy="559.75" r="2.7" fill="none" stroke="#1a1a1a" stroke-width="0.7"/>
<line x1="431" y1="557" x2="434" y2="562.5" stroke="#1a1a1a" stroke-width="0.5" />
<rect x="464.5" y="549.5" width="6.0" height="5.0" fill="#fff" stroke="#1a1a1a" stroke-width="1.0" rx="0" />
<circle cx="467" cy="559.75" r="2.7" fill="none" stroke="#1a1a1a" stroke-width="0.7"/>
<line x1="466" y1="557" x2="469" y2="562.5" stroke="#1a1a1a" stroke-width="0.5" />
<clipPath id="c37"><rect x="507.5" y="444.5" width="147.0" height="5.0" rx="0"/></clipPath>
<rect x="507.5" y="444.5" width="147.0" height="5.0" rx="0" fill="#fff" stroke="none"/>
<path d="M498.1,450.5L505.1,443.5M501.2,450.5L508.2,443.5M504.3,450.5L511.3,443.5M507.4,450.5L514.4,443.5M510.5,450.5L517.5,443.5M513.6,450.5L520.6,443.5M516.7,450.5L523.7,443.5M519.8,450.5L526.8,443.5M522.9,450.5L529.9,443.5M526.0,450.5L533.0,443.5M529.1,450.5L536.1,443.5M532.2,450.5L539.2,443.5M535.3,450.5L542.3,443.5M538.4,450.5L545.4,443.5M541.5,450.5L548.5,443.5M544.6,450.5L551.6,443.5M547.7,450.5L554.7,443.5M550.8,450.5L557.8,443.5M553.9,450.5L560.9,443.5M557.0,450.5L564.0,443.5M560.1,450.5L567.1,443.5M563.2,450.5L570.2,443.5M566.3,450.5L573.3,443.5M569.4,450.5L576.4,443.5M572.5,450.5L579.5,443.5M575.6,450.5L582.6,443.5M578.7,450.5L585.7,443.5M581.8,450.5L588.8,443.5M584.9,450.5L591.9,443.5M588.0,450.5L595.0,443.5M591.1,450.5L598.1,443.5M594.2,450.5L601.2,443.5M597.3,450.5L604.3,443.5M600.4,450.5L607.4,443.5M603.5,450.5L610.5,443.5M606.6,450.5L613.6,443.5M609.7,450.5L616.7,443.5M612.8,450.5L619.8,443.5M615.9,450.5L622.9,443.5M619.0,450.5L626.0,443.5M622.1,450.5L629.1,443.5M625.2,450.5L632.2,443.5M628.3,450.5L635.3,443.5M631.4,450.5L638.4,443.5M634.5,450.5L641.5,443.5M637.6,450.5L644.6,443.5M640.7,450.5L647.7,443.5M643.8,450.5L650.8,443.5M646.9,450.5L653.9,443.5M650.0,450.5L657.0,443.5M653.1,450.5L660.1,443.5M656.2,450.5L663.2,443.5" stroke="#1a1a1a" stroke-width="0.85" clip-path="url(#c37)"/>
<rect x="507.5" y="444.5" width="147.0" height="5.0" rx="0" fill="none" stroke="#1a1a1a" stroke-width="1.0"/>
<clipPath id="c38"><rect x="507.5" y="534.5" width="147.0" height="4.0" rx="0"/></clipPath>
<rect x="507.5" y="534.5" width="147.0" height="4.0" rx="0" fill="#fff" stroke="none"/>
<path d="M499.0,539.5L505.0,533.5M502.1,539.5L508.1,533.5M505.2,539.5L511.2,533.5M508.3,539.5L514.3,533.5M511.4,539.5L517.4,533.5M514.5,539.5L520.5,533.5M517.6,539.5L523.6,533.5M520.7,539.5L526.7,533.5M523.8,539.5L529.8,533.5M526.9,539.5L532.9,533.5M530.0,539.5L536.0,533.5M533.1,539.5L539.1,533.5M536.2,539.5L542.2,533.5M539.3,539.5L545.3,533.5M542.4,539.5L548.4,533.5M545.5,539.5L551.5,533.5M548.6,539.5L554.6,533.5M551.7,539.5L557.7,533.5M554.8,539.5L560.8,533.5M557.9,539.5L563.9,533.5M561.0,539.5L567.0,533.5M564.1,539.5L570.1,533.5M567.2,539.5L573.2,533.5M570.3,539.5L576.3,533.5M573.4,539.5L579.4,533.5M576.5,539.5L582.5,533.5M579.6,539.5L585.6,533.5M582.7,539.5L588.7,533.5M585.8,539.5L591.8,533.5M588.9,539.5L594.9,533.5M592.0,539.5L598.0,533.5M595.1,539.5L601.1,533.5M598.2,539.5L604.2,533.5M601.3,539.5L607.3,533.5M604.4,539.5L610.4,533.5M607.5,539.5L613.5,533.5M610.6,539.5L616.6,533.5M613.7,539.5L619.7,533.5M616.8,539.5L622.8,533.5M619.9,539.5L625.9,533.5M623.0,539.5L629.0,533.5M626.1,539.5L632.1,533.5M629.2,539.5L635.2,533.5M632.3,539.5L638.3,533.5M635.4,539.5L641.4,533.5M638.5,539.5L644.5,533.5M641.6,539.5L647.6,533.5M644.7,539.5L650.7,533.5M647.8,539.5L653.8,533.5M650.9,539.5L656.9,533.5M654.0,539.5L660.0,533.5M657.1,539.5L663.1,533.5" stroke="#1a1a1a" stroke-width="0.85" clip-path="url(#c38)"/>
<rect x="507.5" y="534.5" width="147.0" height="4.0" rx="0" fill="none" stroke="#1a1a1a" stroke-width="1.0"/>
<clipPath id="c39"><rect x="619.5" y="449.5" width="17.0" height="85.0" rx="0"/></clipPath>
<rect x="619.5" y="449.5" width="17.0" height="85.0" rx="0" fill="#fff" stroke="none"/>
<path d="M529.1,448.5L616.1,535.5M532.2,448.5L619.2,535.5M535.3,448.5L622.3,535.5M538.4,448.5L625.4,535.5M541.5,448.5L628.5,535.5M544.6,448.5L631.6,535.5M547.7,448.5L634.7,535.5M550.8,448.5L637.8,535.5M553.9,448.5L640.9,535.5M557.0,448.5L644.0,535.5M560.1,448.5L647.1,535.5M563.2,448.5L650.2,535.5M566.3,448.5L653.3,535.5M569.4,448.5L656.4,535.5M572.5,448.5L659.5,535.5M575.6,448.5L662.6,535.5M578.7,448.5L665.7,535.5M581.8,448.5L668.8,535.5M584.9,448.5L671.9,535.5M588.0,448.5L675.0,535.5M591.1,448.5L678.1,535.5M594.2,448.5L681.2,535.5M597.3,448.5L684.3,535.5M600.4,448.5L687.4,535.5M603.5,448.5L690.5,535.5M606.6,448.5L693.6,535.5M609.7,448.5L696.7,535.5M612.8,448.5L699.8,535.5M615.9,448.5L702.9,535.5M619.0,448.5L706.0,535.5M622.1,448.5L709.1,535.5M625.2,448.5L712.2,535.5M628.3,448.5L715.3,535.5M631.4,448.5L718.4,535.5M634.5,448.5L721.5,535.5M637.6,448.5L724.6,535.5" stroke="#1a1a1a" stroke-width="0.85" clip-path="url(#c39)"/>
<rect x="619.5" y="449.5" width="17.0" height="85.0" rx="0" fill="none" stroke="#1a1a1a" stroke-width="1.0"/>
<rect x="619.3" y="462" width="3.5" height="14" fill="#fff" stroke="#1a1a1a" stroke-width="0.9"/>
<rect x="632" y="462" width="3.6" height="14" fill="#fff" stroke="#1a1a1a" stroke-width="0.9"/>
<rect x="619.3" y="506" width="3.5" height="14" fill="#fff" stroke="#1a1a1a" stroke-width="0.9"/>
<rect x="632" y="506" width="3.6" height="14" fill="#fff" stroke="#1a1a1a" stroke-width="0.9"/>
<rect x="619" y="485.6" width="18" height="11.2" fill="#fff" stroke="#1a1a1a" stroke-width="1"/>
<line x1="620.5" y1="485.6" x2="620.5" y2="496.8" stroke="#1a1a1a" stroke-width="1.0" />
<line x1="622.5" y1="485.6" x2="622.5" y2="496.8" stroke="#1a1a1a" stroke-width="1.0" />
<path d="M635,481.2 L639,481.2 Q640.7,481.2 640.7,483.2 L640.7,499 Q640.7,501 639,501 L635,501" fill="none" stroke="#1a1a1a" stroke-width="1.3" />
<rect x="636.5" y="449.5" width="6.0" height="85.0" fill="none" stroke="#1a1a1a" stroke-width="1.0" rx="0" />
<rect x="642.5" y="449.5" width="12.0" height="85.0" fill="none" stroke="#1a1a1a" stroke-width="1.0" rx="0" />
<clipPath id="c40"><rect x="642.5" y="449.5" width="12.0" height="6.0" rx="0"/></clipPath>
<rect x="642.5" y="449.5" width="12.0" height="6.0" rx="0" fill="#fff" stroke="none"/>
<path d="M631.6,456.5L639.6,448.5M634.7,456.5L642.7,448.5M637.8,456.5L645.8,448.5M640.9,456.5L648.9,448.5M644.0,456.5L652.0,448.5M647.1,456.5L655.1,448.5M650.2,456.5L658.2,448.5M653.3,456.5L661.3,448.5M656.4,456.5L664.4,448.5" stroke="#1a1a1a" stroke-width="0.85" clip-path="url(#c40)"/>
<rect x="642.5" y="449.5" width="12.0" height="6.0" rx="0" fill="none" stroke="#1a1a1a" stroke-width="1.0"/>
<clipPath id="c41"><rect x="642.5" y="528.5" width="12.0" height="6.0" rx="0"/></clipPath>
<rect x="642.5" y="528.5" width="12.0" height="6.0" rx="0" fill="#fff" stroke="none"/>
<path d="M633.2,535.5L641.2,527.5M636.3,535.5L644.3,527.5M639.4,535.5L647.4,527.5M642.5,535.5L650.5,527.5M645.6,535.5L653.6,527.5M648.7,535.5L656.7,527.5M651.8,535.5L659.8,527.5M654.9,535.5L662.9,527.5M658.0,535.5L666.0,527.5" stroke="#1a1a1a" stroke-width="0.85" clip-path="url(#c41)"/>
<rect x="642.5" y="528.5" width="12.0" height="6.0" rx="0" fill="none" stroke="#1a1a1a" stroke-width="1.0"/>
<clipPath id="c42"><polygon points="653.6,420.6 673.1,420.6 673.1,442.5 679.6,463.6 679.6,514 670,523.7 671.5,538 662.6,551.4 662.6,562.7 653.6,562.7 653.6,538 643,538 643,533 653.6,533 653.6,454.7 643,454.7 643,449 653.6,449"/></clipPath>
<polygon points="653.6,420.6 673.1,420.6 673.1,442.5 679.6,463.6 679.6,514 670,523.7 671.5,538 662.6,551.4 662.6,562.7 653.6,562.7 653.6,538 643,538 643,533 653.6,533 653.6,454.7 643,454.7 643,449 653.6,449" fill="#fff" stroke="none"/>
<path d="M497.1,419.6L641.2,563.7M500.2,419.6L644.3,563.7M503.3,419.6L647.4,563.7M506.4,419.6L650.5,563.7M509.5,419.6L653.6,563.7M512.6,419.6L656.7,563.7M515.7,419.6L659.8,563.7M518.8,419.6L662.9,563.7M521.9,419.6L666.0,563.7M525.0,419.6L669.1,563.7M528.1,419.6L672.2,563.7M531.2,419.6L675.3,563.7M534.3,419.6L678.4,563.7M537.4,419.6L681.5,563.7M540.5,419.6L684.6,563.7M543.6,419.6L687.7,563.7M546.7,419.6L690.8,563.7M549.8,419.6L693.9,563.7M552.9,419.6L697.0,563.7M556.0,419.6L700.1,563.7M559.1,419.6L703.2,563.7M562.2,419.6L706.3,563.7M565.3,419.6L709.4,563.7M568.4,419.6L712.5,563.7M571.5,419.6L715.6,563.7M574.6,419.6L718.7,563.7M577.7,419.6L721.8,563.7M580.8,419.6L724.9,563.7M583.9,419.6L728.0,563.7M587.0,419.6L731.1,563.7M590.1,419.6L734.2,563.7M593.2,419.6L737.3,563.7M596.3,419.6L740.4,563.7M599.4,419.6L743.5,563.7M602.5,419.6L746.6,563.7M605.6,419.6L749.7,563.7M608.7,419.6L752.8,563.7M611.8,419.6L755.9,563.7M614.9,419.6L759.0,563.7M618.0,419.6L762.1,563.7M621.1,419.6L765.2,563.7M624.2,419.6L768.3,563.7M627.3,419.6L771.4,563.7M630.4,419.6L774.5,563.7M633.5,419.6L777.6,563.7M636.6,419.6L780.7,563.7M639.7,419.6L783.8,563.7M642.8,419.6L786.9,563.7M645.9,419.6L790.0,563.7M649.0,419.6L793.1,563.7M652.1,419.6L796.2,563.7M655.2,419.6L799.3,563.7M658.3,419.6L802.4,563.7M661.4,419.6L805.5,563.7M664.5,419.6L808.6,563.7M667.6,419.6L811.7,563.7M670.7,419.6L814.8,563.7M673.8,419.6L817.9,563.7M676.9,419.6L821.0,563.7M680.0,419.6L824.1,563.7M683.1,419.6L827.2,563.7" stroke="#1a1a1a" stroke-width="0.85" clip-path="url(#c42)"/>
<polygon points="653.6,420.6 673.1,420.6 673.1,442.5 679.6,463.6 679.6,514 670,523.7 671.5,538 662.6,551.4 662.6,562.7 653.6,562.7 653.6,538 643,538 643,533 653.6,533 653.6,454.7 643,454.7 643,449 653.6,449" fill="none" stroke="#1a1a1a" stroke-width="0.9"/>
<polygon points="653.6,458 672.3,458 670,481.5 657.7,481.5 657.7,499.4 670,499.4 670,501 653.6,527" fill="#fff" stroke="#1a1a1a" stroke-width="0.8"/>
<line x1="653.6" y1="501.5" x2="670" y2="501.5" stroke="#1a1a1a" stroke-width="1.0" />
<line x1="655" y1="459" x2="670" y2="478" stroke="#1a1a1a" stroke-width="0.6" />
<rect x="659.5" y="421.5" width="9.0" height="33.0" fill="#fff" stroke="#1a1a1a" stroke-width="1.0" rx="0" />
<line x1="663.5" y1="416" x2="663.5" y2="458" stroke="#1a1a1a" stroke-width="1.0" />
<line x1="661.5" y1="424" x2="661.5" y2="452" stroke="#1a1a1a" stroke-width="1.0" />
<line x1="666.5" y1="424" x2="666.5" y2="452" stroke="#1a1a1a" stroke-width="1.0" />
<rect x="662.5" y="549.5" width="6.0" height="8.0" fill="none" stroke="#1a1a1a" stroke-width="1.0" rx="2" />
<line x1="507" y1="549.5" x2="654" y2="549.5" stroke="#1a1a1a" stroke-width="1.0" />
<line x1="507" y1="553.5" x2="654" y2="553.5" stroke="#1a1a1a" stroke-width="1.0" />
<line x1="507" y1="557.5" x2="654" y2="557.5" stroke="#1a1a1a" stroke-width="1.0" />
<line x1="507" y1="538.5" x2="654" y2="538.5" stroke="#1a1a1a" stroke-width="1.0" />
<rect x="648.5" y="485.5" width="31.0" height="12.0" fill="#fff" stroke="#1a1a1a" stroke-width="1.0" rx="0" />
<rect x="679.5" y="464.5" width="16.0" height="52.0" fill="#fff" stroke="#1a1a1a" stroke-width="1.0" rx="2" />
<line x1="679.6" y1="476.5" x2="695" y2="476.5" stroke="#1a1a1a" stroke-width="1.0" />
<line x1="679.6" y1="505.5" x2="695" y2="505.5" stroke="#1a1a1a" stroke-width="1.0" />
<rect x="695.5" y="474.5" width="16.0" height="33.0" fill="#fff" stroke="#1a1a1a" stroke-width="1.0" rx="0" />
<rect x="711.5" y="480.5" width="7.0" height="19.0" fill="#fff" stroke="#1a1a1a" stroke-width="1.0" rx="0" />
<line x1="700" y1="491.5" x2="722.5" y2="491.5" stroke="#1a1a1a" stroke-width="1.0" />
<text x="123.5" y="615.8" font-family="'Liberation Serif', serif" font-size="13" fill="#222" text-anchor="start" textLength="117" lengthAdjust="spacing" >A向（详见下页）</text>
<text x="607.5" y="616.3" font-family="'Liberation Serif', serif" font-size="13" fill="#222" text-anchor="start" textLength="117" lengthAdjust="spacing" >B向（详见下页）</text>
<rect x="17.5" y="647.5" width="45.0" height="48.0" fill="none" stroke="#1a1a1a" stroke-width="1.0" rx="3" />
<line x1="14.6" y1="671.5" x2="65.6" y2="671.5" stroke="#1a1a1a" stroke-width="1.0" />
<line x1="39.5" y1="645" x2="39.5" y2="700" stroke="#1a1a1a" stroke-width="1.0" />
<circle cx="39.75" cy="671.6" r="16" fill="none" stroke="#1a1a1a" stroke-width="0.8"/>
<circle cx="39.75" cy="671.6" r="6.6" fill="none" stroke="#1a1a1a" stroke-width="0.8"/>
<rect x="37.5" y="663.8" width="5" height="2.5" fill="none" stroke="#1a1a1a" stroke-width="0.6" rx="0" />
<circle cx="22" cy="652.5" r="2.8" fill="none" stroke="#1a1a1a" stroke-width="0.9"/>
<line x1="20" y1="652.5" x2="24" y2="652.5" stroke="#1a1a1a" stroke-width="1.0" />
<line x1="22.5" y1="650.5" x2="22.5" y2="654.5" stroke="#1a1a1a" stroke-width="1.0" />
<circle cx="58" cy="652.5" r="2.8" fill="none" stroke="#1a1a1a" stroke-width="0.9"/>
<line x1="56" y1="652.5" x2="60" y2="652.5" stroke="#1a1a1a" stroke-width="1.0" />
<line x1="58.5" y1="650.5" x2="58.5" y2="654.5" stroke="#1a1a1a" stroke-width="1.0" />
<circle cx="22" cy="691" r="2.8" fill="none" stroke="#1a1a1a" stroke-width="0.9"/>
<line x1="20" y1="691.5" x2="24" y2="691.5" stroke="#1a1a1a" stroke-width="1.0" />
<line x1="22.5" y1="689" x2="22.5" y2="693" stroke="#1a1a1a" stroke-width="1.0" />
<circle cx="58" cy="691" r="2.8" fill="none" stroke="#1a1a1a" stroke-width="0.9"/>
<line x1="56" y1="691.5" x2="60" y2="691.5" stroke="#1a1a1a" stroke-width="1.0" />
<line x1="58.5" y1="689" x2="58.5" y2="693" stroke="#1a1a1a" stroke-width="1.0" />
<circle cx="133.7" cy="673.5" r="32.2" fill="none" stroke="#1a1a1a" stroke-width="0.9"/>
<circle cx="133.7" cy="673.5" r="26.7" fill="none" stroke="#1a1a1a" stroke-width="0.9"/>
<circle cx="133.7" cy="673.5" r="21" fill="none" stroke="#1a1a1a" stroke-width="0.9"/>
<circle cx="133.7" cy="673.5" r="15.7" fill="none" stroke="#1a1a1a" stroke-width="0.9"/>
<circle cx="133.7" cy="673.5" r="6.5" fill="none" stroke="#1a1a1a" stroke-width="0.9"/>
<line x1="98" y1="673.5" x2="169" y2="673.5" stroke="#1a1a1a" stroke-width="1.0" />
<line x1="133.5" y1="635" x2="133.5" y2="711" stroke="#1a1a1a" stroke-width="1.0" />
<rect x="131.2" y="665" width="5" height="2.5" fill="none" stroke="#1a1a1a" stroke-width="0.6" rx="0" />
<circle cx="160.39999999999998" cy="673.5" r="2.7" fill="none" stroke="#1a1a1a" stroke-width="1.1"/>
<circle cx="160.39999999999998" cy="673.5" r="1.3" fill="none" stroke="#1a1a1a" stroke-width="0.6"/>
<circle cx="152.57975105768082" cy="692.3797510576808" r="2.7" fill="none" stroke="#1a1a1a" stroke-width="1.1"/>
<circle cx="152.57975105768082" cy="692.3797510576808" r="1.3" fill="none" stroke="#1a1a1a" stroke-width="0.6"/>
<circle cx="133.7" cy="700.2" r="2.7" fill="none" stroke="#1a1a1a" stroke-width="1.1"/>
<circle cx="133.7" cy="700.2" r="1.3" fill="none" stroke="#1a1a1a" stroke-width="0.6"/>
<circle cx="114.82024894231917" cy="692.3797510576808" r="2.7" fill="none" stroke="#1a1a1a" stroke-width="1.1"/>
<circle cx="114.82024894231917" cy="692.3797510576808" r="1.3" fill="none" stroke="#1a1a1a" stroke-width="0.6"/>
<circle cx="106.99999999999999" cy="673.5" r="2.7" fill="none" stroke="#1a1a1a" stroke-width="1.1"/>
<circle cx="106.99999999999999" cy="673.5" r="1.3" fill="none" stroke="#1a1a1a" stroke-width="0.6"/>
<circle cx="114.82024894231917" cy="654.6202489423192" r="2.7" fill="none" stroke="#1a1a1a" stroke-width="1.1"/>
<circle cx="114.82024894231917" cy="654.6202489423192" r="1.3" fill="none" stroke="#1a1a1a" stroke-width="0.6"/>
<circle cx="133.7" cy="646.8" r="2.7" fill="none" stroke="#1a1a1a" stroke-width="1.1"/>
<circle cx="133.7" cy="646.8" r="1.3" fill="none" stroke="#1a1a1a" stroke-width="0.6"/>
<circle cx="152.5797510576808" cy="654.6202489423192" r="2.7" fill="none" stroke="#1a1a1a" stroke-width="1.1"/>
<circle cx="152.5797510576808" cy="654.6202489423192" r="1.3" fill="none" stroke="#1a1a1a" stroke-width="0.6"/>
<circle cx="242.5" cy="673.5" r="42" fill="none" stroke="#1a1a1a" stroke-width="0.9"/>
<circle cx="242.5" cy="673.5" r="35" fill="none" stroke="#1a1a1a" stroke-width="0.9"/>
<circle cx="242.5" cy="673.5" r="27.8" fill="none" stroke="#1a1a1a" stroke-width="0.9"/>
<circle cx="242.5" cy="673.5" r="20.6" fill="none" stroke="#1a1a1a" stroke-width="0.9"/>
<circle cx="242.5" cy="673.5" r="8.1" fill="none" stroke="#1a1a1a" stroke-width="0.9"/>
<line x1="197" y1="673.5" x2="288" y2="673.5" stroke="#1a1a1a" stroke-width="1.0" />
<line x1="242.5" y1="625" x2="242.5" y2="720.6" stroke="#1a1a1a" stroke-width="1.0" />
<rect x="238.5" y="661.5" width="8" height="3" fill="none" stroke="#1a1a1a" stroke-width="0.7" rx="0" />
<circle cx="275.7596631704063" cy="687.2766035651432" r="3.4" fill="none" stroke="#1a1a1a" stroke-width="1.0"/>
<line x1="273.7596631704063" y1="687.5" x2="277.7596631704063" y2="687.5" stroke="#1a1a1a" stroke-width="1.0" />
<line x1="275.5" y1="685.2766035651432" x2="275.5" y2="689.2766035651432" stroke="#1a1a1a" stroke-width="1.0" />
<circle cx="256.2766035651432" cy="706.7596631704063" r="3.4" fill="none" stroke="#1a1a1a" stroke-width="1.0"/>
<line x1="254.2766035651432" y1="706.5" x2="258.2766035651432" y2="706.5" stroke="#1a1a1a" stroke-width="1.0" />
<line x1="256.5" y1="704.7596631704063" x2="256.5" y2="708.7596631704063" stroke="#1a1a1a" stroke-width="1.0" />
<circle cx="228.72339643485677" cy="706.7596631704063" r="3.4" fill="none" stroke="#1a1a1a" stroke-width="1.0"/>
<line x1="226.72339643485677" y1="706.5" x2="230.72339643485677" y2="706.5" stroke="#1a1a1a" stroke-width="1.0" />
<line x1="228.5" y1="704.7596631704063" x2="228.5" y2="708.7596631704063" stroke="#1a1a1a" stroke-width="1.0" />
<circle cx="209.24033682959367" cy="687.2766035651432" r="3.4" fill="none" stroke="#1a1a1a" stroke-width="1.0"/>
<line x1="207.24033682959367" y1="687.5" x2="211.24033682959367" y2="687.5" stroke="#1a1a1a" stroke-width="1.0" />
<line x1="209.5" y1="685.2766035651432" x2="209.5" y2="689.2766035651432" stroke="#1a1a1a" stroke-width="1.0" />
<circle cx="209.24033682959367" cy="659.7233964348568" r="3.4" fill="none" stroke="#1a1a1a" stroke-width="1.0"/>
<line x1="207.24033682959367" y1="659.5" x2="211.24033682959367" y2="659.5" stroke="#1a1a1a" stroke-width="1.0" />
<line x1="209.5" y1="657.7233964348568" x2="209.5" y2="661.7233964348568" stroke="#1a1a1a" stroke-width="1.0" />
<circle cx="228.72339643485677" cy="640.2403368295936" r="3.4" fill="none" stroke="#1a1a1a" stroke-width="1.0"/>
<line x1="226.72339643485677" y1="640.5" x2="230.72339643485677" y2="640.5" stroke="#1a1a1a" stroke-width="1.0" />
<line x1="228.5" y1="638.2403368295936" x2="228.5" y2="642.2403368295936" stroke="#1a1a1a" stroke-width="1.0" />
<circle cx="256.27660356514326" cy="640.2403368295937" r="3.4" fill="none" stroke="#1a1a1a" stroke-width="1.0"/>
<line x1="254.27660356514326" y1="640.5" x2="258.27660356514326" y2="640.5" stroke="#1a1a1a" stroke-width="1.0" />
<line x1="256.5" y1="638.2403368295937" x2="256.5" y2="642.2403368295937" stroke="#1a1a1a" stroke-width="1.0" />
<circle cx="275.7596631704063" cy="659.7233964348568" r="3.4" fill="none" stroke="#1a1a1a" stroke-width="1.0"/>
<line x1="273.7596631704063" y1="659.5" x2="277.7596631704063" y2="659.5" stroke="#1a1a1a" stroke-width="1.0" />
<line x1="275.5" y1="657.7233964348568" x2="275.5" y2="661.7233964348568" stroke="#1a1a1a" stroke-width="1.0" />
<text transform="translate(38,739) scale(0.8,1)" x="0" y="0" font-family="'Liberation Serif', serif" font-size="14.5" font-weight="normal" fill="#222" text-anchor="middle" textLength="60.00" lengthAdjust="spacing">QW-140</text>
<text transform="translate(133.5,739) scale(0.8,1)" x="0" y="0" font-family="'Liberation Serif', serif" font-size="14.5" font-weight="normal" fill="#222" text-anchor="middle" textLength="63.75" lengthAdjust="spacing">QW-180</text>
<text transform="translate(244,739) scale(0.8,1)" x="0" y="0" font-family="'Liberation Serif', serif" font-size="14.5" font-weight="normal" fill="#222" text-anchor="middle" textLength="110.00" lengthAdjust="spacing">QW-200～500</text>
<text transform="translate(499,739) scale(0.8,1)" x="0" y="0" font-family="'Liberation Serif', serif" font-size="14.5" font-weight="normal" fill="#444" text-anchor="middle" textLength="110.00" lengthAdjust="spacing">QW-140～250</text>
<text transform="translate(614,739) scale(0.8,1)" x="0" y="0" font-family="'Liberation Serif', serif" font-size="14.5" font-weight="normal" fill="#222" text-anchor="middle" textLength="63.75" lengthAdjust="spacing">QW-280</text>
<text transform="translate(736.5,739) scale(0.8,1)" x="0" y="0" font-family="'Liberation Serif', serif" font-size="14.5" font-weight="normal" fill="#222" text-anchor="middle" textLength="108.75" lengthAdjust="spacing">QW-350～500</text>
<path d="M472.5,641 Q472.5,636 477.5,636 L519.4,636 Q524.4,636 524.4,641 L524.4,700.6 Q524.4,705.6 519.4,705.6 L477.5,705.6 Q472.5,705.6 472.5,700.6 Z" fill="none" stroke="#555" stroke-width="0.8" />
<line x1="472.5" y1="641" x2="472.5" y2="670" stroke="#1a1a1a" stroke-width="1.0" />
<line x1="477.5" y1="636.5" x2="519.4" y2="636.5" stroke="#1a1a1a" stroke-width="1.0" />
<line x1="498.5" y1="633.75" x2="498.5" y2="707.5" stroke="#1a1a1a" stroke-width="1.0" />
<line x1="470" y1="670.5" x2="525" y2="670.5" stroke="#777" stroke-width="1.0" stroke-dasharray="4,2"/>
<circle cx="498.4" cy="670.6" r="20.6" fill="none" stroke="#444" stroke-width="0.7"/>
<circle cx="498.4" cy="670.6" r="11.9" fill="none" stroke="#1a1a1a" stroke-width="0.8"/>
<line x1="488.5" y1="663.6" x2="488.5" y2="677.6" stroke="#1a1a1a" stroke-width="1.0" />
<line x1="507.5" y1="663.6" x2="507.5" y2="677.6" stroke="#1a1a1a" stroke-width="1.0" />
<circle cx="498.4" cy="670.6" r="4.4" fill="none" stroke="#1a1a1a" stroke-width="0.7"/>
<rect x="497.2" y="665.6" width="2.4" height="10" fill="#1a1a1a" stroke="#1a1a1a" stroke-width="0" rx="0" />
<circle cx="475.6" cy="653.5" r="1.3" fill="#1a1a1a" stroke="#1a1a1a" stroke-width="0"/>
<circle cx="520.6" cy="653.5" r="1.3" fill="#1a1a1a" stroke="#1a1a1a" stroke-width="0"/>
<circle cx="475.6" cy="687.9" r="1.3" fill="#1a1a1a" stroke="#1a1a1a" stroke-width="0"/>
<circle cx="520.6" cy="687.9" r="1.3" fill="#1a1a1a" stroke="#1a1a1a" stroke-width="0"/>
<path d="M591.25,644.4 Q616.6,625 642.5,644.4 L642.5,702.5 Q616.6,722 591.25,702.5 Z" fill="none" stroke="#1a1a1a" stroke-width="0.9" />
<line x1="616.5" y1="631" x2="616.5" y2="713.75" stroke="#1a1a1a" stroke-width="1.0" />
<line x1="586" y1="673.5" x2="648.75" y2="673.5" stroke="#1a1a1a" stroke-width="1.0" />
<circle cx="616.6" cy="673.5" r="20.6" fill="none" stroke="#1a1a1a" stroke-width="0.8"/>
<circle cx="616.6" cy="673.5" r="12.5" fill="none" stroke="#1a1a1a" stroke-width="0.9"/>
<line x1="606.5" y1="666.0" x2="606.5" y2="681.0" stroke="#1a1a1a" stroke-width="1.1" />
<line x1="626.5" y1="666.0" x2="626.5" y2="681.0" stroke="#1a1a1a" stroke-width="1.1" />
<circle cx="616.6" cy="673.5" r="4.4" fill="none" stroke="#1a1a1a" stroke-width="0.7"/>
<rect x="615.4" y="668.5" width="2.4" height="10" fill="#1a1a1a" stroke="#1a1a1a" stroke-width="0" rx="0" />
<circle cx="594.4" cy="656.25" r="1.4" fill="#1a1a1a" stroke="#1a1a1a" stroke-width="0"/>
<circle cx="639" cy="656.25" r="1.4" fill="#1a1a1a" stroke="#1a1a1a" stroke-width="0"/>
<circle cx="594.4" cy="690.25" r="1.4" fill="#1a1a1a" stroke="#1a1a1a" stroke-width="0"/>
<circle cx="639" cy="690.25" r="1.4" fill="#1a1a1a" stroke="#1a1a1a" stroke-width="0"/>
<path d="M705,662.5 A31.6,31.6 0 0 1 768.2,662.5 L768.2,712.75 L705,712.75 Z" fill="none" stroke="#1a1a1a" stroke-width="0.9" />
<circle cx="736.6" cy="662.5" r="24.6" fill="none" stroke="#1a1a1a" stroke-width="0.9"/>
<circle cx="736.6" cy="662.5" r="21.5" fill="none" stroke="#1a1a1a" stroke-width="0.9"/>
<line x1="736.5" y1="626.9" x2="736.5" y2="717.5" stroke="#1a1a1a" stroke-width="1.0" />
<line x1="700" y1="662.5" x2="773.5" y2="662.5" stroke="#1a1a1a" stroke-width="1.0" />
<circle cx="720" cy="705.4" r="1.4" fill="#1a1a1a" stroke="#1a1a1a" stroke-width="0"/>
<circle cx="752.5" cy="705.4" r="1.4" fill="#1a1a1a" stroke="#1a1a1a" stroke-width="0"/>
</svg></body></html>
